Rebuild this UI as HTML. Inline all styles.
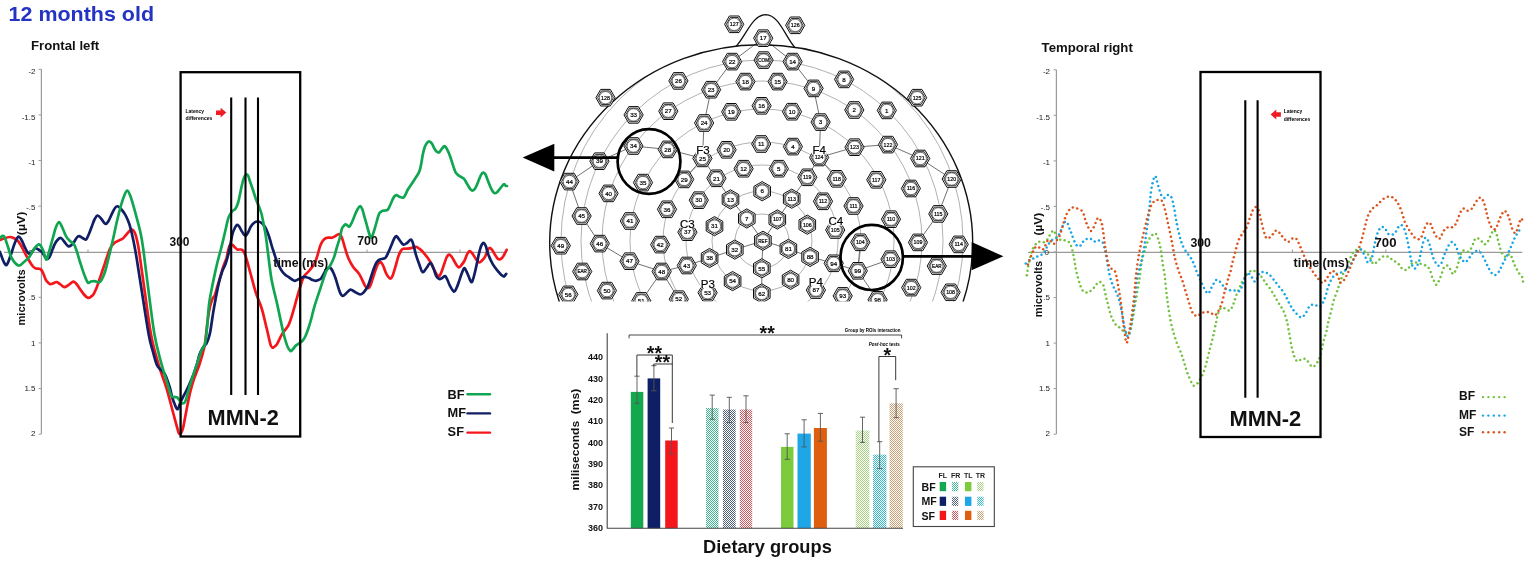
<!DOCTYPE html>
<html lang="en"><head><meta charset="utf-8"><title>12 months old - MMN-2 latency</title>
<style>
html,body{margin:0;padding:0;background:#fff}
body{width:1535px;height:564px;overflow:hidden;font-family:"Liberation Sans",Arial,sans-serif}
svg{display:block;font-family:"Liberation Sans",Arial,sans-serif}
.b{font-weight:bold}
.tk{font-size:8px;fill:#222}
.el{font-size:5.6px;fill:#000;text-anchor:middle;stroke:#000;stroke-width:0.2px}
.big{font-size:11.5px;fill:#000;text-anchor:middle;stroke:#000;stroke-width:0.2px}
</style></head><body>
<svg width="1535" height="564" viewBox="0 0 1535 564">
<defs>
<pattern id="hTeal" width="2" height="2" patternUnits="userSpaceOnUse"><rect width="2" height="2" fill="#fff"/><rect width="1" height="1" fill="#3fb890"/><rect x="1" y="1" width="1" height="1" fill="#3fb890"/></pattern>
<pattern id="hGrey" width="2" height="2" patternUnits="userSpaceOnUse"><rect width="2" height="2" fill="#fff"/><rect width="1" height="1" fill="#4f5f78"/><rect x="1" y="1" width="1" height="1" fill="#4f5f78"/></pattern>
<pattern id="hRed" width="2" height="2" patternUnits="userSpaceOnUse"><rect width="2" height="2" fill="#fff"/><rect width="1" height="1" fill="#d2565c"/><rect x="1" y="1" width="1" height="1" fill="#d2565c"/></pattern>
<pattern id="hLg" width="2" height="2" patternUnits="userSpaceOnUse"><rect width="2" height="2" fill="#fff"/><rect width="1" height="1" fill="#a9d483"/><rect x="1" y="1" width="1" height="1" fill="#a9d483"/></pattern>
<pattern id="hCy" width="2" height="2" patternUnits="userSpaceOnUse"><rect width="2" height="2" fill="#fff"/><rect width="1" height="1" fill="#35bccb"/><rect x="1" y="1" width="1" height="1" fill="#35bccb"/></pattern>
<pattern id="hTan" width="2" height="2" patternUnits="userSpaceOnUse"><rect width="2" height="2" fill="#fff"/><rect width="1" height="1" fill="#c9a074"/><rect x="1" y="1" width="1" height="1" fill="#c9a074"/></pattern>
<clipPath id="headclip"><rect x="500" y="0" width="520" height="301.6"/></clipPath>
<clipPath id="inhead"><ellipse cx="761.2" cy="242.7" rx="211.5" ry="197.9"/></clipPath>
</defs>
<rect width="1535" height="564" fill="#fff"/>
<text x="8.6" y="20.6" class="b" font-size="19.8" fill="#2433c4" textLength="145.4" lengthAdjust="spacingAndGlyphs">12 months old</text>
<g id="left-chart">
<text x="31" y="50.3" class="b" font-size="13.1" fill="#111" textLength="68.2" lengthAdjust="spacingAndGlyphs">Frontal left</text>
<path d="M41.4 69.3V434M4 252.3H507" stroke="#9a9a9a" stroke-width="1.2" fill="none"/>
<path d="M38.6 69.3H41.4" stroke="#9a9a9a" stroke-width="1"/>
<text x="35.5" y="74.3" class="tk" text-anchor="end">-2</text>
<path d="M38.6 114.9H41.4" stroke="#9a9a9a" stroke-width="1"/>
<text x="35.5" y="119.5" class="tk" text-anchor="end">-1.5</text>
<path d="M38.6 160.5H41.4" stroke="#9a9a9a" stroke-width="1"/>
<text x="35.5" y="164.7" class="tk" text-anchor="end">-1</text>
<path d="M38.6 206.1H41.4" stroke="#9a9a9a" stroke-width="1"/>
<text x="35.5" y="209.9" class="tk" text-anchor="end">-.5</text>
<path d="M38.6 251.7H41.4" stroke="#9a9a9a" stroke-width="1"/>
<text x="33" y="255.1" class="tk" text-anchor="end">0</text>
<path d="M38.6 297.3H41.4" stroke="#9a9a9a" stroke-width="1"/>
<text x="35.5" y="300.3" class="tk" text-anchor="end">.5</text>
<path d="M38.6 342.9H41.4" stroke="#9a9a9a" stroke-width="1"/>
<text x="35.5" y="345.5" class="tk" text-anchor="end">1</text>
<path d="M38.6 388.5H41.4" stroke="#9a9a9a" stroke-width="1"/>
<text x="35.5" y="390.7" class="tk" text-anchor="end">1.5</text>
<path d="M38.6 434.1H41.4" stroke="#9a9a9a" stroke-width="1"/>
<text x="35.5" y="435.9" class="tk" text-anchor="end">2</text>
<path d="M88 249.5V252.3" stroke="#9a9a9a" stroke-width="1"/>
<path d="M181 249.5V252.3" stroke="#9a9a9a" stroke-width="1"/>
<path d="M274 249.5V252.3" stroke="#9a9a9a" stroke-width="1"/>
<path d="M367 249.5V252.3" stroke="#9a9a9a" stroke-width="1"/>
<path d="M460 249.5V252.3" stroke="#9a9a9a" stroke-width="1"/>
<text transform="translate(25.3,325.6) rotate(-90)" class="b" font-size="11.3" fill="#111" textLength="56.4" lengthAdjust="spacingAndGlyphs" xml:space="preserve">microvolts</text>
<text transform="translate(25.3,235.2) rotate(-90)" class="b" font-size="11.8" fill="#111" textLength="23.6" lengthAdjust="spacingAndGlyphs" xml:space="preserve">(µV)</text>
<path d="M0 240C0.7 239.8 2.3 239 3.9 238.5C5.5 238 8.2 237.1 9.8 237C11.4 236.9 12.2 237.4 13.5 238C14.8 238.6 16.4 239.2 17.6 240.5C18.9 241.8 19.9 243.6 21 245.5C22.1 247.4 23 249.6 24.4 252.2C25.8 254.8 27.9 258.6 29.3 261C30.7 263.4 31.9 265.2 33 266.5C34.1 267.8 35.1 268.1 36.1 268.5C37.1 268.9 38.2 268.6 39 268.8C39.8 269 40.2 268.6 41 269.5C41.8 270.4 42.7 272.2 43.5 274C44.3 275.8 45.1 278.5 45.9 280C46.7 281.5 47.7 282.3 48.5 283C49.3 283.7 49.9 284.2 50.7 284.2C51.5 284.2 52.5 283.6 53.5 283.2C54.5 282.8 55.4 281.8 56.6 282C57.8 282.2 59.2 283.6 60.5 284.5C61.8 285.4 63.1 287.1 64.4 287.2C65.7 287.3 67 285.9 68.5 285C70 284.1 71.9 281.8 73.2 281.6C74.5 281.4 75.4 282.8 76.5 284C77.6 285.2 78.8 287.2 80 289C81.2 290.8 82.7 293 84 294.5C85.3 296 86.7 297.4 87.8 297.8C88.9 298.2 89.5 297.6 90.5 297C91.5 296.4 92.7 295.4 93.7 293.9C94.7 292.4 95.5 290.4 96.5 288C97.5 285.6 98.3 282.7 99.5 279.3C100.7 275.9 102.2 271.3 103.4 267.8C104.6 264.3 105.5 261.4 106.5 258.5C107.5 255.6 108.4 252.4 109.3 250.2C110.2 248 111 246.8 112 245.5C113 244.2 113.9 243.2 115.1 242.4C116.3 241.6 117.7 241.2 119 240.5C120.3 239.8 121.7 239.4 122.9 238.5C124.1 237.6 125 236.1 126 235C127 233.9 128 232.5 128.8 231.7C129.6 230.9 130.2 230.3 130.8 230C131.5 229.7 132 229.4 132.7 229.8C133.3 230.2 134 231.1 134.7 232.5C135.3 233.9 135.9 235.6 136.6 238.5C137.3 241.4 137.6 241.6 138.9 250C140.2 258.4 142.4 274.8 144.4 289C146.4 303.2 148.8 322.4 151.1 335C153.4 347.6 156 355.5 158.5 364.3C161 373.1 163.9 379.6 166.3 387.7C168.8 395.8 171.4 406.4 173.2 413C175 419.6 176 423.6 177 427C178 430.4 178.3 432.5 179 433.5C179.7 434.5 180.3 433.8 181 433C181.7 432.2 182.2 431.2 182.9 428.7C183.6 426.2 184.2 422.2 185 418C185.8 413.8 186.9 407.8 187.8 403.3C188.7 398.8 189.5 394.9 190.5 391C191.5 387.1 192.2 384.3 193.7 379.9C195.2 375.4 197.7 369.8 199.5 364.3C201.3 358.8 203.3 351.8 204.4 346.7C205.5 341.6 205.5 338.7 206.1 333.9C206.7 329.1 207.3 322.6 208 318C208.7 313.4 209.2 309.8 210 306.6C210.8 303.4 211.7 300.9 212.5 299C213.3 297.1 214.1 297.1 214.9 294.9C215.7 292.7 216.5 289.2 217.5 286C218.5 282.8 219.7 278.7 220.7 275.4C221.7 272.1 222.5 268.9 223.5 266C224.5 263.1 225.8 260.3 226.6 257.8C227.3 255.3 227.5 253 228 251C228.5 249 229 247 229.5 245.9C230 244.8 230.5 244.7 231 244.5C231.5 244.3 231.7 244.4 232.4 244.9C233.1 245.4 234.2 246.8 235 247.5C235.8 248.2 236.5 249.1 237.3 249.4C238.1 249.7 239 249.4 239.8 249.5C240.6 249.6 241.5 249.3 242.2 249.8C242.9 250.3 243.5 251.2 244.2 252.5C244.8 253.8 245.1 254.4 246.1 257.6C247.1 260.8 248.4 265.6 250 271.5C251.6 277.4 254 286.7 255.9 292.9C257.9 299.1 259.9 302.6 261.7 308.5C263.5 314.4 265.1 322 266.6 328C268.1 334 269.6 341.4 270.5 344.6C271.4 347.8 271.5 346.7 272 347.2C272.5 347.7 272.8 347.8 273.4 347.6C273.9 347.4 274.6 346.6 275.3 346C276 345.4 276.2 345.7 277.3 343.7C278.4 341.7 280.4 336.8 282.2 333.9C284 331 286.6 328.4 288 326.1C289.4 323.8 289.7 322.3 290.5 320C291.3 317.7 291.7 316.6 292.9 312.4C294.1 308.2 296.2 300.4 297.8 294.9C299.4 289.4 301.4 282.7 302.7 279.3C304 275.9 304.5 275.8 305.5 274.5C306.5 273.2 307 273.3 308.5 271.5C310 269.7 313 266.1 314.4 263.7C315.8 261.3 316 260 317 257C318 254 319.2 248.7 320.2 245.9C321.2 243.2 322 241.8 323 240.5C324 239.2 325.1 238.5 326.1 238C327.1 237.5 328 237.7 329 237.6C330 237.5 330.9 238 332 237.7C333.1 237.4 334.4 236.6 335.5 236C336.6 235.4 337.9 234.2 338.8 234.1C339.7 234 340.2 234.5 340.8 235.5C341.4 236.5 342 237.9 342.7 240C343.4 242.1 344 244.9 345 248C346 251.1 347.1 255.3 348.5 258.5C349.9 261.7 351.6 264.7 353.4 267.3C355.2 269.9 357.4 271 359.3 274.1C361.2 277.2 363.8 283.6 365.1 285.9C366.4 288.2 366.4 287.5 367 287.8C367.6 288.1 368.3 288.4 369 287.8C369.7 287.2 370.4 285.6 371 284C371.6 282.4 372.1 280.3 372.9 278C373.6 275.7 374.7 272.3 375.5 270C376.3 267.7 377.1 265.6 377.8 264.4C378.5 263.2 378.9 262.9 379.5 262.6C380.1 262.3 380.5 261.8 381.1 262.4C381.7 263 382.6 264.4 383.3 266C384.1 267.6 384.8 270.4 385.6 272.2C386.4 273.9 387.2 275.4 388 276.5C388.8 277.6 389.8 278.7 390.5 278.6C391.2 278.5 391.9 277.4 392.5 276C393.1 274.6 393.4 273.4 394.4 270.2C395.4 267 397.3 259.7 398.3 256.6C399.3 253.5 399.7 252.8 400.5 251.5C401.3 250.2 401.6 249.3 403.2 248.8C404.8 248.3 408.4 248.7 410 248.4C411.6 248.2 412 247.6 413 247.3C414 247 414.9 246.6 415.9 246.8C416.9 247 417.9 247.7 419 248.5C420.1 249.3 420.9 249.7 422.7 251.7C424.4 253.7 427.4 257.1 429.5 260.5C431.6 263.9 434.1 269.7 435.4 272.2C436.7 274.7 436.9 274.9 437.5 275.5C438.1 276.1 438.6 276.7 439.3 276.1C440 275.5 440.7 273.9 441.5 272C442.3 270.1 443.3 266.8 444.1 264.4C444.9 262 445.7 259.1 446.5 257.5C447.3 255.9 448.2 254.8 449 254.6C449.8 254.4 450.7 255.5 451.5 256.5C452.3 257.5 453.1 259.1 453.9 260.5C454.7 261.9 455.7 263.9 456.5 265C457.3 266.1 458 267.3 458.8 267.3C459.6 267.3 460.5 266.1 461.5 265C462.5 263.9 463.7 262.2 464.6 260.5C465.5 258.8 466.2 256.1 467 254.5C467.8 252.9 468.7 251.3 469.5 251.1C470.3 250.8 471.2 252.1 472 253C472.8 253.9 473.6 255.4 474.4 256.6C475.2 257.9 476.2 259.5 477 260.5C477.8 261.5 478.5 262.4 479.3 262.4C480.1 262.4 481 261.5 482 260.5C483 259.5 484.2 258.3 485.1 256.6C486 254.9 486.7 252 487.5 250.5C488.3 249 489.2 247.8 490 247.8C490.8 247.8 491.7 249.4 492.5 250.5C493.3 251.6 494.1 253.3 494.9 254.6C495.7 255.9 496.7 257.7 497.5 258.5C498.3 259.3 499.1 259.6 499.8 259.5C500.6 259.4 501.4 258.6 502 258C502.6 257.4 503.1 256.6 503.7 255.6C504.3 254.6 505 253 505.5 252C506 251 506.4 250.2 506.6 249.8" fill="none" stroke="#f5161b" stroke-width="2.7" stroke-linejoin="round" stroke-linecap="round"/>
<path d="M0 252C0.5 253.3 2.1 258 2.9 260C3.7 262 4.3 263.2 5 264C5.7 264.8 6.1 265.6 6.8 264.9C7.5 264.2 8.2 262.1 9 260C9.8 257.9 10.7 255.1 11.7 252.2C12.7 249.3 13.9 245.1 15 242.5C16.1 239.9 17.4 237 18.5 236.6C19.6 236.2 20.5 238.4 21.5 240C22.5 241.6 23.5 244.4 24.4 246.3C25.3 248.2 26.2 250.2 27 251.5C27.8 252.8 28.5 253.7 29.3 253.8C30.1 253.9 31 252.9 32 252C33 251.1 34 248.7 35.1 248.3C36.2 247.9 37.4 248.8 38.5 249.5C39.6 250.2 40.9 251 42 252.2C43.1 253.4 44 255.4 45 256.5C46 257.6 47 259.1 47.8 259C48.6 258.9 49.2 257.6 50 256C50.8 254.4 51.7 251.4 52.5 249.5C53.3 247.6 53.8 246 54.6 244.4C55.4 242.8 56.5 241.1 57.5 240C58.5 238.9 59.7 237.7 60.9 238C62.1 238.3 63.3 240.6 64.5 242C65.7 243.4 67.1 245.8 68.3 246.3C69.5 246.8 70.5 245.7 71.5 245C72.5 244.3 73.3 243.2 74.1 242C74.9 240.8 75.7 239 76.5 238C77.3 237 78 236.2 79 236.2C80 236.2 81.3 237.4 82.5 238C83.7 238.6 84.9 240 85.9 239.5C86.9 239 87.5 237.1 88.5 235C89.5 232.9 90.7 229.4 91.7 226.8C92.7 224.2 93.5 221.4 94.5 219.5C95.5 217.6 96.4 215.6 97.6 215.5C98.8 215.4 100.2 217.6 101.5 219C102.8 220.4 104.2 223.6 105.4 223.9C106.6 224.2 107.4 222.8 108.5 221C109.6 219.2 111.1 215.4 112.2 213.2C113.3 211 114.1 209.2 115 208C115.9 206.8 116.7 206.1 117.7 206.3C118.7 206.5 119.8 207.7 121 209C122.2 210.3 123.7 212.2 124.9 214.1C126.1 216 127 218.1 128 220.5C129 222.9 129.8 225.4 130.7 228.8C131.6 232.2 132.5 236.1 133.5 241C134.5 245.9 135.3 249.9 136.6 258C137.9 266.1 139.5 276.5 141.5 289.3C143.5 302.1 146.9 324.6 148.8 335C150.7 345.4 151.7 347.1 153 352C154.3 356.9 155.5 361.6 156.6 364.3C157.7 367.1 158.5 367.4 159.5 368.5C160.5 369.6 161.5 370.1 162.4 371.1C163.3 372.1 164.2 373 165 374.5C165.8 376 166.5 377.6 167.3 379.9C168.1 382.1 169.2 385.1 170 388C170.8 390.9 171.4 394.6 172.2 397.4C173 400.2 174.2 403.1 175 405C175.8 406.9 176.5 408.7 177.1 409.1C177.7 409.5 178.2 408.5 178.7 407.5C179.2 406.5 179.3 405.1 180 403.3C180.7 401.6 182 398.9 183 397C184 395.1 184.8 393.8 185.9 391.6C187 389.4 188.2 386.9 189.5 384C190.8 381.1 192.4 377.3 193.7 374C194.9 370.7 196 367.2 197 364C198 360.8 198.5 357.2 199.5 354.5C200.5 351.8 201.9 349.3 203 347.5C204.1 345.7 205.5 345.1 206.3 343.8C207.1 342.5 207.3 341.8 208 339.8C208.7 337.8 209.4 336.2 210.2 332C211 327.8 212 320.1 212.9 314.4C213.8 308.7 214.8 303.2 215.8 298C216.8 292.8 217.8 287.5 218.8 283.2C219.8 278.9 220.9 275.2 222 272C223.1 268.8 224.5 266.8 225.6 263.7C226.7 260.6 227.7 257 228.5 253.7C229.3 250.4 229.8 247.3 230.5 244C231.2 240.7 231.7 236.8 232.4 234.1C233.1 231.4 234 229.6 234.8 228C235.6 226.4 236.6 225.1 237.3 224.8C238 224.6 238.5 225.6 239.2 226.5C239.8 227.4 240.5 228.9 241.2 230.2C241.9 231.4 242.8 233.1 243.5 234C244.2 234.9 244.9 235.9 245.7 235.7C246.4 235.4 247.1 234.1 248 232.5C248.9 230.9 249.9 228 251 226.3C252.1 224.6 253.4 223.3 254.5 222.5C255.6 221.7 256.6 221.4 257.8 221.5C259 221.6 260.4 222.2 261.5 223C262.6 223.8 263.7 225 264.6 226.3C265.5 227.6 266.2 229.1 267 231C267.8 232.9 268.8 235.7 269.5 238C270.2 240.3 270.9 242.8 271.5 245C272.1 247.2 272.6 248.5 273.4 251C274.2 253.5 275.4 257.3 276.3 259.8C277.2 262.3 278 264.1 279 266C280 267.9 281.1 270 282.2 271.5C283.3 273 284.4 274 285.5 275C286.6 276 287.9 276.6 289 277.3C290.1 278.1 291 278.9 292 279.5C293 280.1 293.7 280.9 294.9 280.8C296.1 280.7 297.5 279.6 299 279C300.5 278.4 302.4 277.2 303.7 276.9C304.9 276.6 305.5 277.1 306.5 277.3C307.5 277.5 308.5 277.9 309.5 278.3C310.5 278.8 311.5 279.6 312.5 280C313.5 280.4 314.4 280.8 315.4 280.8C316.4 280.8 317.5 280.4 318.5 280C319.5 279.6 320.3 279.4 321.2 278.3C322.1 277.2 323.2 275 324 273.5C324.8 272 325.4 270.4 326.1 269.5C326.9 268.6 327.7 268 328.5 267.8C329.3 267.6 330.2 267.6 331 268.5C331.8 269.4 332.7 271.2 333.5 273C334.3 274.8 334.8 276.1 335.9 279.3C336.9 282.5 338.7 289.2 339.8 292C340.9 294.8 341.6 295.7 342.7 295.9C343.8 296.1 345.2 294.1 346.5 293C347.8 291.9 349.1 289.8 350.5 289.6C351.9 289.4 353.4 291.2 355 292C356.6 292.8 358.7 294.5 360.2 294.5C361.7 294.5 362.7 293.4 364 292C365.3 290.6 366.8 288.4 368 285.9C369.2 283.4 370 279.9 371 277C372 274.1 373 270.7 373.9 268.3C374.8 265.9 375.5 264 376.5 262.5C377.5 261 378.8 260.1 379.8 259.5C380.8 258.9 381.7 259.1 382.7 258.8C383.7 258.5 384.6 258.7 385.6 257.6C386.6 256.5 387.5 254.1 388.5 252C389.5 249.9 390.6 247.1 391.5 244.9C392.4 242.7 393.2 240.5 394 239C394.8 237.5 395.4 235.9 396.3 236.1C397.2 236.3 398.4 238.6 399.5 240C400.6 241.4 401.9 244 403.2 244.5C404.4 245 405.7 243.8 407 243C408.3 242.2 409.9 239.3 411 239.6C412.1 239.9 412.7 242.5 413.5 245C414.3 247.5 414.9 251.3 415.9 254.6C416.9 257.9 418.4 262.1 419.5 265C420.6 267.9 421.5 271.7 422.7 272.2C423.9 272.7 425.2 269.6 426.5 268C427.8 266.4 429.3 262.7 430.5 262.8C431.7 262.9 432.5 266.3 433.5 268.5C434.5 270.7 435.3 274.4 436.3 276.1C437.3 277.9 438.3 278.7 439.3 279C440.3 279.3 441.2 278.5 442.2 278C443.2 277.5 444.2 275.8 445.1 276.1C446 276.4 446.7 278.4 447.5 280C448.3 281.6 448.9 283.9 450 285.9C451.1 287.8 452.8 291.3 453.9 291.7C455 292.1 455.7 289.6 456.5 288C457.3 286.4 458 284.3 458.8 282C459.6 279.7 460.6 276.3 461.5 274C462.4 271.7 463.4 268.7 464.2 268.3C465 267.9 465.8 270.2 466.5 271.5C467.2 272.8 467.9 274.6 468.5 276.1C469.1 277.6 469.7 279.5 470.3 280.5C470.9 281.5 471.4 282.8 472 282C472.6 281.2 473.3 278.6 474 276C474.7 273.4 475.6 269.6 476.3 266.3C477 263.1 477.7 259.4 478.3 256.5C478.9 253.6 479.6 250.8 480.2 248.8C480.8 246.8 481.4 245.3 482 244.3C482.6 243.3 483.1 242.5 483.8 242.9C484.5 243.3 485.3 244.7 486 246.5C486.7 248.3 486.9 250.7 488 253.7C489.1 256.7 491.1 261.3 492.9 264.4C494.7 267.5 497.4 270.4 498.8 272.2C500.2 274 500.7 274.3 501.5 275C502.3 275.7 503.1 276.4 503.7 276.5C504.3 276.6 504.6 275.9 505 275.5C505.4 275.1 506 274.1 506.2 273.8" fill="none" stroke="#101e63" stroke-width="2.7" stroke-linejoin="round" stroke-linecap="round"/>
<path d="M0 238C0.7 237.7 2.6 234.7 3.9 236.2C5.2 237.7 6.7 243.4 8 247C9.3 250.6 9.9 254.9 11.7 258C13.4 261.1 16.4 264.8 18.5 265.5C20.6 266.2 22.2 263.4 24 262C25.8 260.6 27.6 259.2 29.3 257C31 254.8 32.4 251.1 34 249C35.6 246.9 37.5 244.2 39 244.4C40.5 244.6 41.8 247.5 43 250C44.2 252.5 45.2 259.3 46.2 259.6C47.2 259.9 47.9 255.5 49 252C50.1 248.5 51.5 242.7 52.7 238.5C53.9 234.3 54.9 229.8 56 227C57.1 224.2 58 221.8 59.1 222C60.2 222.2 61.3 225.6 62.5 228C63.7 230.4 65 234.4 66.3 236.6C67.5 238.8 68.7 239.7 70 241C71.3 242.3 72.9 242.6 74.1 244.4C75.3 246.2 76 249.1 77 252C78 254.9 78.8 258.3 80 262C81.2 265.7 82.7 270.6 84 274C85.3 277.4 86.6 281.2 87.8 282.5C89 283.8 89.9 281.7 91 281.5C92.1 281.3 93.2 281.1 94.6 281.2C96 281.3 98.2 282.8 99.5 282.3C100.8 281.8 101.5 280 102.5 278C103.5 276 104.3 274.2 105.4 270.5C106.5 266.8 107.7 261.3 109 256C110.3 250.7 111.9 244.3 113.2 238.5C114.5 232.7 115.7 226.5 117 221C118.3 215.5 119.8 209.7 121 205.4C122.2 201.1 123.5 197.4 124.5 195C125.5 192.6 126.3 190.7 127.2 190.7C128.1 190.7 129.1 192.9 130 195C130.9 197.1 131.6 199.7 132.7 203.4C133.8 207.1 135.2 212.1 136.5 217C137.8 221.9 139.3 227.2 140.5 232.7C141.7 238.2 142.1 240.6 143.4 250C144.7 259.4 146.5 275 148.3 289C150.1 303 152.4 322.1 154.4 334C156.4 345.9 158.5 352.8 160.5 360.4C162.5 368 164.5 374 166.3 379.9C168.1 385.8 169.8 392.6 171.2 395.5C172.6 398.4 173.5 396.7 174.5 397C175.5 397.3 176.2 396.7 177.1 397.4C178 398.1 179.2 400 180 401C180.8 402 181.2 403.1 182 403.3C182.8 403.5 184.1 403.5 184.9 402.3C185.7 401.1 186.2 398.8 187 396C187.8 393.2 188.4 390.3 189.8 385.7C191.2 381.1 193.7 374 195.6 368.2C197.5 362.4 199.9 354.7 201.5 350.6C203.1 346.5 204.2 347.5 205.1 343.7C206 339.9 206.3 334.5 207 328C207.7 321.5 208.2 310.9 209 304.6C209.8 298.3 210.5 295.2 211.5 290C212.5 284.8 213.9 278.1 214.9 273.4C215.9 268.7 216.5 265.9 217.5 262C218.5 258.1 219.8 253.3 220.7 250C221.6 246.7 221.9 245.3 222.7 242C223.5 238.7 224.5 234.1 225.5 230C226.5 225.9 227.4 220.7 228.5 217.6C229.6 214.5 230.8 213 232 211.5C233.2 210 234.4 210.2 235.4 208.8C236.4 207.4 237.2 205.6 238 203C238.8 200.4 239.5 196.4 240.2 193.2C240.9 190 241.5 186.6 242.2 184C242.8 181.4 243.5 179.1 244.1 177.6C244.7 176.1 245.2 175.5 245.7 175C246.2 174.5 246.6 174.3 247.1 174.6C247.6 174.8 248 175.3 248.5 176.5C249 177.7 249.2 179.2 250 181.5C250.8 183.8 252 187.1 253 190C254 192.9 254.8 195.9 255.9 199C257 202.1 258.8 206.1 259.8 208.8C260.8 211.5 261.2 212.4 261.8 215C262.4 217.6 263 220.9 263.7 224.4C264.4 227.9 265.1 231.7 265.8 236C266.5 240.3 266.7 242.8 267.6 250C268.6 257.2 269.9 270.2 271.5 279.3C273.1 288.4 275.4 295.8 277.3 304.6C279.2 313.4 281.6 325.2 283.2 332C284.8 338.8 285.9 342.4 287.1 345.6C288.3 348.8 289.6 350.5 290.6 351.1C291.6 351.7 292.1 349.9 293 349C293.9 348.1 294.8 346.6 295.9 345.6C297 344.6 298.4 343.8 299.5 343C300.6 342.2 301.7 341.9 302.7 340.7C303.7 339.5 304.5 338.1 305.5 336C306.5 333.9 307.5 331 308.5 328C309.5 325 310.5 321.6 311.5 318C312.5 314.4 312.9 311.4 314.4 306.6C315.8 301.8 318.2 294.9 320.2 289C322.1 283.1 324.5 275.3 326.1 271.5C327.7 267.7 328.7 268.3 330 266C331.3 263.7 332.7 260.8 333.9 257.6C335.1 254.4 336 250.3 337 247C338 243.7 339 240.9 339.8 238C340.6 235.1 341.1 231.3 341.7 229.3C342.3 227.3 343 226.8 343.7 226C344.4 225.2 345 224.5 345.6 224.4C346.2 224.3 346.9 225.1 347.5 225.5C348.1 225.9 348.7 227.3 349.5 226.6C350.3 225.8 351.5 223.2 352.5 221C353.5 218.8 354.5 215.8 355.4 213.7C356.3 211.6 357.2 209.8 358 208.5C358.8 207.2 359.5 205.9 360.2 206C360.9 206.1 361.5 207.4 362.2 209C362.9 210.6 363.4 213.1 364.1 215.6C364.8 218.1 365.7 221.1 366.5 224C367.3 226.9 368.2 230.7 369 233C369.8 235.3 370.3 237.8 371 238C371.7 238.2 372.4 235.7 373 234C373.6 232.3 373.9 231.2 374.9 228C375.9 224.8 377.8 217.2 378.8 214.5C379.8 211.8 380.2 212.6 380.8 212C381.4 211.4 382 210.9 382.7 210.7C383.4 210.4 384.2 210.7 385 210.5C385.8 210.3 386.8 210.6 387.6 209.8C388.4 209 389.2 207.1 390 205.5C390.8 203.9 391.7 201.5 392.4 200C393.1 198.5 393.6 197.3 394.3 196.5C395 195.7 395.4 195 396.3 195.1C397.2 195.2 398.4 196.4 399.5 196.8C400.6 197.2 402.2 198.1 403.2 197.7C404.2 197.3 404.7 195.9 405.5 194.5C406.3 193.1 406.6 191.6 408 189.3C409.4 187 412.1 183.3 413.9 180.5C415.7 177.7 417.6 175.1 418.8 172.7C420 170.3 420.2 168.9 420.8 166C421.4 163.1 422.1 158.2 422.7 155.1C423.3 152 424 149.4 424.6 147.5C425.2 145.6 426 144.3 426.6 143.4C427.2 142.5 427.5 142.1 428 141.8C428.5 141.5 429 141.4 429.5 141.5C430 141.6 430.5 142 431 142.5C431.5 143 431.8 143.4 432.4 144.4C432.9 145.4 433.6 147.4 434.3 148.5C435 149.6 435.7 150.6 436.3 151.2C436.9 151.8 437.3 152.1 437.8 152.3C438.3 152.5 438.7 152.8 439.3 152.2C439.9 151.6 440.9 150 441.7 149C442.5 148 443.5 146.6 444.1 146.3C444.8 146 445.1 146.5 445.6 147C446.1 147.5 446.5 148.2 447.1 149.3C447.7 150.4 448.4 151.9 449 153.5C449.6 155.1 450 156.1 451 159C452 161.9 453.9 168.2 454.9 170.7C455.9 173.2 456.1 173 456.8 173.8C457.5 174.6 457.7 174.8 458.8 175.6C459.9 176.4 462.5 177.4 463.7 178.5C464.9 179.6 465.2 180.7 466 182C466.8 183.3 467.8 185.1 468.5 186.3C469.2 187.5 469.9 188.6 470.5 189.3C471.1 190 471.8 190.6 472.4 190.6C473 190.6 473.6 190.2 474.3 189.5C475 188.8 475.3 188.5 476.3 186.3C477.3 184.2 479.2 178.7 480.2 176.6C481.1 174.5 481.4 174.2 482 173.5C482.6 172.8 483.2 172.5 483.8 172.7C484.4 172.9 484.9 173.5 485.5 174.5C486.1 175.5 486.2 176.2 487.1 178.5C488 180.8 490 186.1 491 188.3C492 190.5 492.4 190.9 493 191.7C493.6 192.5 494.3 193.1 494.9 193.2C495.5 193.3 496.1 193 496.8 192.5C497.5 192 497.7 191.5 498.8 190.2C499.9 188.8 502.6 185.1 503.7 184.4C504.8 183.7 505.1 185.5 505.6 185.8C506.2 186.1 506.8 186 507 186" fill="none" stroke="#10a651" stroke-width="2.7" stroke-linejoin="round" stroke-linecap="round"/>
<rect x="180.6" y="72.2" width="119.6" height="364.3" fill="none" stroke="#000" stroke-width="2.3"/>
<path d="M231.2 97.6V395M245.5 97.6V395M258 97.6V395" stroke="#000" stroke-width="2.1" fill="none"/>
<text x="207.6" y="425.2" class="b" font-size="21.2" fill="#111" textLength="71.2" lengthAdjust="spacingAndGlyphs">MMN-2</text>
<text x="169.5" y="246" class="b" font-size="12" fill="#111" textLength="20" lengthAdjust="spacingAndGlyphs">300</text>
<text x="357.2" y="245.4" class="b" font-size="12" fill="#111" textLength="20.7" lengthAdjust="spacingAndGlyphs">700</text>
<text x="273.3" y="267.4" class="b" font-size="12.3" fill="#111" textLength="54.8" lengthAdjust="spacingAndGlyphs">time (ms)</text>
<text x="185.5" y="112.9" class="b" font-size="5.4" fill="#000" textLength="18.6" lengthAdjust="spacingAndGlyphs">Latency</text>
<text x="185.5" y="119.8" class="b" font-size="5.4" fill="#000" textLength="26.8" lengthAdjust="spacingAndGlyphs">differences</text>
<path d="M216 110.4H220.6V107.8L226.3 112.6L220.6 117.6V114.9H216Z" fill="#ee1c25"/>
<text x="447.6" y="398.7" class="b" font-size="12.8" fill="#111">BF</text>
<path d="M467.5 394.2H490" stroke="#10a651" stroke-width="2.4" stroke-linecap="round"/>
<text x="447.6" y="416.9" class="b" font-size="12.8" fill="#111">MF</text>
<path d="M467.5 413.4H490" stroke="#101e63" stroke-width="2.4" stroke-linecap="round"/>
<text x="447.6" y="436.3" class="b" font-size="12.8" fill="#111">SF</text>
<path d="M467.5 432.6H490" stroke="#f5161b" stroke-width="2.4" stroke-linecap="round"/>
</g>
<g id="head" clip-path="url(#headclip)">
<g clip-path="url(#inhead)" fill="none" stroke="#707070" stroke-width="0.55">
<circle cx="762" cy="241" r="27"/>
<circle cx="762" cy="241" r="50"/>
<circle cx="762" cy="241" r="76"/>
<circle cx="762" cy="241" r="99"/>
<circle cx="762" cy="241" r="132"/>
<circle cx="762" cy="241" r="160"/>
<circle cx="762" cy="241" r="181"/>
<circle cx="762" cy="241" r="201"/>
</g>
<path d="M763.2 38.2L732.1 61.6L711.1 89.7L704.1 123L702.4 158.4M763.2 38.2L792.6 61.6L813.6 88.4L820.6 122.1L819.1 157.5M702.4 158.4L716.4 178.3L730.5 199.4L746.8 218.5L762.9 240.8M819.1 157.5L807.3 177.3L791.7 198.7L777.3 219.5L762.9 240.8M762.9 240.8L761.8 268.3L761.8 293.4M762.9 240.8L734.8 249.6L709.6 258L686.8 265.5L661.7 271.5M762.9 240.8L788.4 248.9L810.1 256.9L833.7 263.3L857.8 270.8M702.4 158.4L667.7 149.4L633.4 146L599.4 161.2L569.4 181.6L581.6 216L599.8 243.6L629.5 261.2L661.7 271.5M819.1 157.5L854.5 147.2L888 144.6L920.2 158.5L951.7 179L938.3 213.9L918 242.4M661.7 271.5L678.8 299.2M661.7 271.5L641.3 300.9M857.8 270.8L877.6 299.8M857.8 270.8L890.5 259.2M857.8 270.8L860.3 242.3M702.4 158.4L684.2 179.4M819.1 157.5L836.7 178.8" fill="none" stroke="#333" stroke-width="0.7"/>
<ellipse cx="761.2" cy="242.7" rx="211.5" ry="197.9" fill="none" stroke="#111" stroke-width="1.4"/>
<path d="M736 46.5C746 36 752 15 765.8 14.6C779 15 785 36 794.7 47.2" fill="none" stroke="#111" stroke-width="1.3"/>
<g><polygon points="743.8,24.3 739,32.6 729.4,32.6 724.6,24.3 729.4,16 739,16" fill="#fff" stroke="#0c0c0c" stroke-width="1" stroke-linejoin="round"/><polygon points="742.1,24.3 738.2,31.1 730.2,31.1 726.3,24.3 730.2,17.5 738.2,17.5" fill="#d8d8d8" stroke="#161616" stroke-width="0.85" stroke-linejoin="round"/><circle cx="734.2" cy="24.3" r="6.2" fill="#fff" stroke="#222" stroke-width="0.6"/>
<text x="734.2" y="26.2" class="el" style="font-size:5.3px">127</text></g>
<g><polygon points="804.8,25.3 800,33.6 790.4,33.6 785.6,25.3 790.4,17 800,17" fill="#fff" stroke="#0c0c0c" stroke-width="1" stroke-linejoin="round"/><polygon points="803.1,25.3 799.2,32.1 791.2,32.1 787.3,25.3 791.2,18.5 799.2,18.5" fill="#d8d8d8" stroke="#161616" stroke-width="0.85" stroke-linejoin="round"/><circle cx="795.2" cy="25.3" r="6.2" fill="#fff" stroke="#222" stroke-width="0.6"/>
<text x="795.2" y="27.2" class="el" style="font-size:5.3px">126</text></g>
<g><polygon points="772.8,38.2 768,46.5 758.4,46.5 753.6,38.2 758.4,29.9 768,29.9" fill="#fff" stroke="#0c0c0c" stroke-width="1" stroke-linejoin="round"/><polygon points="771.1,38.2 767.2,45 759.2,45 755.3,38.2 759.2,31.4 767.2,31.4" fill="#d8d8d8" stroke="#161616" stroke-width="0.85" stroke-linejoin="round"/><circle cx="763.2" cy="38.2" r="6.2" fill="#fff" stroke="#222" stroke-width="0.6"/>
<text x="763.2" y="40.4" class="el" style="font-size:6.2px">17</text></g>
<g><polygon points="741.7,61.6 736.9,69.9 727.3,69.9 722.5,61.6 727.3,53.3 736.9,53.3" fill="#fff" stroke="#0c0c0c" stroke-width="1" stroke-linejoin="round"/><polygon points="740,61.6 736.1,68.4 728.1,68.4 724.2,61.6 728.1,54.8 736.1,54.8" fill="#d8d8d8" stroke="#161616" stroke-width="0.85" stroke-linejoin="round"/><circle cx="732.1" cy="61.6" r="6.2" fill="#fff" stroke="#222" stroke-width="0.6"/>
<text x="732.1" y="63.8" class="el" style="font-size:6.2px">22</text></g>
<g><polygon points="773.2,60.1 768.4,68.4 758.8,68.4 754,60.1 758.8,51.8 768.4,51.8" fill="#fff" stroke="#0c0c0c" stroke-width="1" stroke-linejoin="round"/><polygon points="771.5,60.1 767.6,66.9 759.6,66.9 755.7,60.1 759.6,53.3 767.6,53.3" fill="#d8d8d8" stroke="#161616" stroke-width="0.85" stroke-linejoin="round"/><circle cx="763.6" cy="60.1" r="6.2" fill="#fff" stroke="#222" stroke-width="0.6"/>
<text x="763.6" y="61.8" class="el" style="font-size:4.6px">COM</text></g>
<g><polygon points="802.2,61.6 797.4,69.9 787.8,69.9 783,61.6 787.8,53.3 797.4,53.3" fill="#fff" stroke="#0c0c0c" stroke-width="1" stroke-linejoin="round"/><polygon points="800.5,61.6 796.6,68.4 788.6,68.4 784.7,61.6 788.6,54.8 796.6,54.8" fill="#d8d8d8" stroke="#161616" stroke-width="0.85" stroke-linejoin="round"/><circle cx="792.6" cy="61.6" r="6.2" fill="#fff" stroke="#222" stroke-width="0.6"/>
<text x="792.6" y="63.8" class="el" style="font-size:6.2px">14</text></g>
<g><polygon points="688,80.9 683.2,89.2 673.6,89.2 668.8,80.9 673.6,72.6 683.2,72.6" fill="#fff" stroke="#0c0c0c" stroke-width="1" stroke-linejoin="round"/><polygon points="686.3,80.9 682.4,87.7 674.4,87.7 670.5,80.9 674.4,74.1 682.4,74.1" fill="#d8d8d8" stroke="#161616" stroke-width="0.85" stroke-linejoin="round"/><circle cx="678.4" cy="80.9" r="6.2" fill="#fff" stroke="#222" stroke-width="0.6"/>
<text x="678.4" y="83.1" class="el" style="font-size:6.2px">26</text></g>
<g><polygon points="755,81.6 750.2,89.9 740.6,89.9 735.8,81.6 740.6,73.3 750.2,73.3" fill="#fff" stroke="#0c0c0c" stroke-width="1" stroke-linejoin="round"/><polygon points="753.3,81.6 749.4,88.4 741.4,88.4 737.5,81.6 741.4,74.8 749.4,74.8" fill="#d8d8d8" stroke="#161616" stroke-width="0.85" stroke-linejoin="round"/><circle cx="745.4" cy="81.6" r="6.2" fill="#fff" stroke="#222" stroke-width="0.6"/>
<text x="745.4" y="83.8" class="el" style="font-size:6.2px">18</text></g>
<g><polygon points="787.2,81.6 782.4,89.9 772.8,89.9 768,81.6 772.8,73.3 782.4,73.3" fill="#fff" stroke="#0c0c0c" stroke-width="1" stroke-linejoin="round"/><polygon points="785.5,81.6 781.6,88.4 773.6,88.4 769.7,81.6 773.6,74.8 781.6,74.8" fill="#d8d8d8" stroke="#161616" stroke-width="0.85" stroke-linejoin="round"/><circle cx="777.6" cy="81.6" r="6.2" fill="#fff" stroke="#222" stroke-width="0.6"/>
<text x="777.6" y="83.8" class="el" style="font-size:6.2px">15</text></g>
<g><polygon points="853.7,79.4 848.9,87.7 839.3,87.7 834.5,79.4 839.3,71.1 848.9,71.1" fill="#fff" stroke="#0c0c0c" stroke-width="1" stroke-linejoin="round"/><polygon points="852,79.4 848.1,86.2 840.1,86.2 836.2,79.4 840.1,72.6 848.1,72.6" fill="#d8d8d8" stroke="#161616" stroke-width="0.85" stroke-linejoin="round"/><circle cx="844.1" cy="79.4" r="6.2" fill="#fff" stroke="#222" stroke-width="0.6"/>
<text x="844.1" y="81.6" class="el" style="font-size:6.2px">8</text></g>
<g><polygon points="720.7,89.7 715.9,98 706.3,98 701.5,89.7 706.3,81.4 715.9,81.4" fill="#fff" stroke="#0c0c0c" stroke-width="1" stroke-linejoin="round"/><polygon points="719,89.7 715.1,96.5 707.1,96.5 703.2,89.7 707.1,82.9 715.1,82.9" fill="#d8d8d8" stroke="#161616" stroke-width="0.85" stroke-linejoin="round"/><circle cx="711.1" cy="89.7" r="6.2" fill="#fff" stroke="#222" stroke-width="0.6"/>
<text x="711.1" y="91.9" class="el" style="font-size:6.2px">23</text></g>
<g><polygon points="823.2,88.4 818.4,96.7 808.8,96.7 804,88.4 808.8,80.1 818.4,80.1" fill="#fff" stroke="#0c0c0c" stroke-width="1" stroke-linejoin="round"/><polygon points="821.5,88.4 817.6,95.2 809.6,95.2 805.7,88.4 809.6,81.6 817.6,81.6" fill="#d8d8d8" stroke="#161616" stroke-width="0.85" stroke-linejoin="round"/><circle cx="813.6" cy="88.4" r="6.2" fill="#fff" stroke="#222" stroke-width="0.6"/>
<text x="813.6" y="90.6" class="el" style="font-size:6.2px">9</text></g>
<g><polygon points="615.1,97.7 610.3,106 600.7,106 595.9,97.7 600.7,89.4 610.3,89.4" fill="#fff" stroke="#0c0c0c" stroke-width="1" stroke-linejoin="round"/><polygon points="613.4,97.7 609.5,104.5 601.5,104.5 597.6,97.7 601.5,90.9 609.5,90.9" fill="#d8d8d8" stroke="#161616" stroke-width="0.85" stroke-linejoin="round"/><circle cx="605.5" cy="97.7" r="6.2" fill="#fff" stroke="#222" stroke-width="0.6"/>
<text x="605.5" y="99.6" class="el" style="font-size:5.3px">128</text></g>
<g><polygon points="926.7,97.7 921.9,106 912.3,106 907.5,97.7 912.3,89.4 921.9,89.4" fill="#fff" stroke="#0c0c0c" stroke-width="1" stroke-linejoin="round"/><polygon points="925,97.7 921.1,104.5 913.1,104.5 909.2,97.7 913.1,90.9 921.1,90.9" fill="#d8d8d8" stroke="#161616" stroke-width="0.85" stroke-linejoin="round"/><circle cx="917.1" cy="97.7" r="6.2" fill="#fff" stroke="#222" stroke-width="0.6"/>
<text x="917.1" y="99.6" class="el" style="font-size:5.3px">125</text></g>
<g><polygon points="643.2,114.9 638.4,123.2 628.8,123.2 624,114.9 628.8,106.6 638.4,106.6" fill="#fff" stroke="#0c0c0c" stroke-width="1" stroke-linejoin="round"/><polygon points="641.5,114.9 637.6,121.7 629.6,121.7 625.7,114.9 629.6,108.1 637.6,108.1" fill="#d8d8d8" stroke="#161616" stroke-width="0.85" stroke-linejoin="round"/><circle cx="633.6" cy="114.9" r="6.2" fill="#fff" stroke="#222" stroke-width="0.6"/>
<text x="633.6" y="117.1" class="el" style="font-size:6.2px">33</text></g>
<g><polygon points="677.9,111.2 673.1,119.5 663.5,119.5 658.7,111.2 663.5,102.9 673.1,102.9" fill="#fff" stroke="#0c0c0c" stroke-width="1" stroke-linejoin="round"/><polygon points="676.2,111.2 672.2,118 664.3,118 660.4,111.2 664.3,104.4 672.2,104.4" fill="#d8d8d8" stroke="#161616" stroke-width="0.85" stroke-linejoin="round"/><circle cx="668.3" cy="111.2" r="6.2" fill="#fff" stroke="#222" stroke-width="0.6"/>
<text x="668.3" y="113.4" class="el" style="font-size:6.2px">27</text></g>
<g><polygon points="740.8,111.8 736,120.1 726.4,120.1 721.6,111.8 726.4,103.5 736,103.5" fill="#fff" stroke="#0c0c0c" stroke-width="1" stroke-linejoin="round"/><polygon points="739.1,111.8 735.2,118.6 727.2,118.6 723.3,111.8 727.2,105 735.2,105" fill="#d8d8d8" stroke="#161616" stroke-width="0.85" stroke-linejoin="round"/><circle cx="731.2" cy="111.8" r="6.2" fill="#fff" stroke="#222" stroke-width="0.6"/>
<text x="731.2" y="114" class="el" style="font-size:6.2px">19</text></g>
<g><polygon points="771.2,105.8 766.4,114.1 756.8,114.1 752,105.8 756.8,97.5 766.4,97.5" fill="#fff" stroke="#0c0c0c" stroke-width="1" stroke-linejoin="round"/><polygon points="769.5,105.8 765.6,112.6 757.6,112.6 753.7,105.8 757.6,99 765.6,99" fill="#d8d8d8" stroke="#161616" stroke-width="0.85" stroke-linejoin="round"/><circle cx="761.6" cy="105.8" r="6.2" fill="#fff" stroke="#222" stroke-width="0.6"/>
<text x="761.6" y="108" class="el" style="font-size:6.2px">16</text></g>
<g><polygon points="801.6,111.7 796.8,120 787.2,120 782.4,111.7 787.2,103.4 796.8,103.4" fill="#fff" stroke="#0c0c0c" stroke-width="1" stroke-linejoin="round"/><polygon points="799.9,111.7 796,118.5 788,118.5 784.1,111.7 788,104.9 796,104.9" fill="#d8d8d8" stroke="#161616" stroke-width="0.85" stroke-linejoin="round"/><circle cx="792" cy="111.7" r="6.2" fill="#fff" stroke="#222" stroke-width="0.6"/>
<text x="792" y="113.9" class="el" style="font-size:6.2px">10</text></g>
<g><polygon points="863.9,110 859.1,118.3 849.5,118.3 844.7,110 849.5,101.7 859.1,101.7" fill="#fff" stroke="#0c0c0c" stroke-width="1" stroke-linejoin="round"/><polygon points="862.2,110 858.2,116.8 850.3,116.8 846.4,110 850.3,103.2 858.2,103.2" fill="#d8d8d8" stroke="#161616" stroke-width="0.85" stroke-linejoin="round"/><circle cx="854.3" cy="110" r="6.2" fill="#fff" stroke="#222" stroke-width="0.6"/>
<text x="854.3" y="112.2" class="el" style="font-size:6.2px">2</text></g>
<g><polygon points="896.4,110.4 891.6,118.7 882,118.7 877.2,110.4 882,102.1 891.6,102.1" fill="#fff" stroke="#0c0c0c" stroke-width="1" stroke-linejoin="round"/><polygon points="894.7,110.4 890.8,117.2 882.8,117.2 878.9,110.4 882.8,103.6 890.8,103.6" fill="#d8d8d8" stroke="#161616" stroke-width="0.85" stroke-linejoin="round"/><circle cx="886.8" cy="110.4" r="6.2" fill="#fff" stroke="#222" stroke-width="0.6"/>
<text x="886.8" y="112.6" class="el" style="font-size:6.2px">1</text></g>
<g><polygon points="713.7,123 708.9,131.3 699.3,131.3 694.5,123 699.3,114.7 708.9,114.7" fill="#fff" stroke="#0c0c0c" stroke-width="1" stroke-linejoin="round"/><polygon points="712,123 708.1,129.8 700.1,129.8 696.2,123 700.1,116.2 708.1,116.2" fill="#d8d8d8" stroke="#161616" stroke-width="0.85" stroke-linejoin="round"/><circle cx="704.1" cy="123" r="6.2" fill="#fff" stroke="#222" stroke-width="0.6"/>
<text x="704.1" y="125.2" class="el" style="font-size:6.2px">24</text></g>
<g><polygon points="830.2,122.1 825.4,130.4 815.8,130.4 811,122.1 815.8,113.8 825.4,113.8" fill="#fff" stroke="#0c0c0c" stroke-width="1" stroke-linejoin="round"/><polygon points="828.5,122.1 824.6,128.9 816.6,128.9 812.7,122.1 816.6,115.3 824.6,115.3" fill="#d8d8d8" stroke="#161616" stroke-width="0.85" stroke-linejoin="round"/><circle cx="820.6" cy="122.1" r="6.2" fill="#fff" stroke="#222" stroke-width="0.6"/>
<text x="820.6" y="124.3" class="el" style="font-size:6.2px">3</text></g>
<g><polygon points="643,146 638.2,154.3 628.6,154.3 623.8,146 628.6,137.7 638.2,137.7" fill="#fff" stroke="#0c0c0c" stroke-width="1" stroke-linejoin="round"/><polygon points="641.3,146 637.4,152.8 629.4,152.8 625.5,146 629.4,139.2 637.4,139.2" fill="#d8d8d8" stroke="#161616" stroke-width="0.85" stroke-linejoin="round"/><circle cx="633.4" cy="146" r="6.2" fill="#fff" stroke="#222" stroke-width="0.6"/>
<text x="633.4" y="148.2" class="el" style="font-size:6.2px">34</text></g>
<g><polygon points="677.3,149.4 672.5,157.7 662.9,157.7 658.1,149.4 662.9,141.1 672.5,141.1" fill="#fff" stroke="#0c0c0c" stroke-width="1" stroke-linejoin="round"/><polygon points="675.6,149.4 671.7,156.2 663.8,156.2 659.8,149.4 663.8,142.6 671.7,142.6" fill="#d8d8d8" stroke="#161616" stroke-width="0.85" stroke-linejoin="round"/><circle cx="667.7" cy="149.4" r="6.2" fill="#fff" stroke="#222" stroke-width="0.6"/>
<text x="667.7" y="151.6" class="el" style="font-size:6.2px">28</text></g>
<g><polygon points="736.2,149.8 731.4,158.1 721.8,158.1 717,149.8 721.8,141.5 731.4,141.5" fill="#fff" stroke="#0c0c0c" stroke-width="1" stroke-linejoin="round"/><polygon points="734.5,149.8 730.6,156.6 722.6,156.6 718.7,149.8 722.6,143 730.6,143" fill="#d8d8d8" stroke="#161616" stroke-width="0.85" stroke-linejoin="round"/><circle cx="726.6" cy="149.8" r="6.2" fill="#fff" stroke="#222" stroke-width="0.6"/>
<text x="726.6" y="152" class="el" style="font-size:6.2px">20</text></g>
<g><polygon points="770.8,144 766,152.3 756.4,152.3 751.6,144 756.4,135.7 766,135.7" fill="#fff" stroke="#0c0c0c" stroke-width="1" stroke-linejoin="round"/><polygon points="769.1,144 765.2,150.8 757.2,150.8 753.3,144 757.2,137.2 765.2,137.2" fill="#d8d8d8" stroke="#161616" stroke-width="0.85" stroke-linejoin="round"/><circle cx="761.2" cy="144" r="6.2" fill="#fff" stroke="#222" stroke-width="0.6"/>
<text x="761.2" y="146.2" class="el" style="font-size:6.2px">11</text></g>
<g><polygon points="802.5,146.6 797.7,154.9 788.1,154.9 783.3,146.6 788.1,138.3 797.7,138.3" fill="#fff" stroke="#0c0c0c" stroke-width="1" stroke-linejoin="round"/><polygon points="800.8,146.6 796.9,153.4 788.9,153.4 785,146.6 788.9,139.8 796.9,139.8" fill="#d8d8d8" stroke="#161616" stroke-width="0.85" stroke-linejoin="round"/><circle cx="792.9" cy="146.6" r="6.2" fill="#fff" stroke="#222" stroke-width="0.6"/>
<text x="792.9" y="148.8" class="el" style="font-size:6.2px">4</text></g>
<g><polygon points="864.1,147.2 859.3,155.5 849.7,155.5 844.9,147.2 849.7,138.9 859.3,138.9" fill="#fff" stroke="#0c0c0c" stroke-width="1" stroke-linejoin="round"/><polygon points="862.4,147.2 858.5,154 850.5,154 846.6,147.2 850.5,140.4 858.5,140.4" fill="#d8d8d8" stroke="#161616" stroke-width="0.85" stroke-linejoin="round"/><circle cx="854.5" cy="147.2" r="6.2" fill="#fff" stroke="#222" stroke-width="0.6"/>
<text x="854.5" y="149.1" class="el" style="font-size:5.3px">123</text></g>
<g><polygon points="897.6,144.6 892.8,152.9 883.2,152.9 878.4,144.6 883.2,136.3 892.8,136.3" fill="#fff" stroke="#0c0c0c" stroke-width="1" stroke-linejoin="round"/><polygon points="895.9,144.6 892,151.4 884,151.4 880.1,144.6 884,137.8 892,137.8" fill="#d8d8d8" stroke="#161616" stroke-width="0.85" stroke-linejoin="round"/><circle cx="888" cy="144.6" r="6.2" fill="#fff" stroke="#222" stroke-width="0.6"/>
<text x="888" y="146.5" class="el" style="font-size:5.3px">122</text></g>
<g><polygon points="712,158.4 707.2,166.7 697.6,166.7 692.8,158.4 697.6,150.1 707.2,150.1" fill="#fff" stroke="#0c0c0c" stroke-width="1" stroke-linejoin="round"/><polygon points="710.3,158.4 706.4,165.2 698.4,165.2 694.5,158.4 698.4,151.6 706.4,151.6" fill="#d8d8d8" stroke="#161616" stroke-width="0.85" stroke-linejoin="round"/><circle cx="702.4" cy="158.4" r="6.2" fill="#fff" stroke="#222" stroke-width="0.6"/>
<text x="702.4" y="160.6" class="el" style="font-size:6.2px">25</text></g>
<g><polygon points="828.7,157.5 823.9,165.8 814.3,165.8 809.5,157.5 814.3,149.2 823.9,149.2" fill="#fff" stroke="#0c0c0c" stroke-width="1" stroke-linejoin="round"/><polygon points="827,157.5 823.1,164.3 815.1,164.3 811.2,157.5 815.1,150.7 823.1,150.7" fill="#d8d8d8" stroke="#161616" stroke-width="0.85" stroke-linejoin="round"/><circle cx="819.1" cy="157.5" r="6.2" fill="#fff" stroke="#222" stroke-width="0.6"/>
<text x="819.1" y="159.4" class="el" style="font-size:5.3px">124</text></g>
<g><polygon points="609,161.2 604.2,169.5 594.6,169.5 589.8,161.2 594.6,152.9 604.2,152.9" fill="#fff" stroke="#0c0c0c" stroke-width="1" stroke-linejoin="round"/><polygon points="607.3,161.2 603.4,168 595.4,168 591.5,161.2 595.4,154.4 603.4,154.4" fill="#d8d8d8" stroke="#161616" stroke-width="0.85" stroke-linejoin="round"/><circle cx="599.4" cy="161.2" r="6.2" fill="#fff" stroke="#222" stroke-width="0.6"/>
<text x="599.4" y="163.4" class="el" style="font-size:6.2px">39</text></g>
<g><polygon points="929.8,158.5 925,166.8 915.4,166.8 910.6,158.5 915.4,150.2 925,150.2" fill="#fff" stroke="#0c0c0c" stroke-width="1" stroke-linejoin="round"/><polygon points="928.1,158.5 924.2,165.3 916.2,165.3 912.3,158.5 916.2,151.7 924.2,151.7" fill="#d8d8d8" stroke="#161616" stroke-width="0.85" stroke-linejoin="round"/><circle cx="920.2" cy="158.5" r="6.2" fill="#fff" stroke="#222" stroke-width="0.6"/>
<text x="920.2" y="160.4" class="el" style="font-size:5.3px">121</text></g>
<g><polygon points="753.2,168.7 748.4,177 738.8,177 734,168.7 738.8,160.4 748.4,160.4" fill="#fff" stroke="#0c0c0c" stroke-width="1" stroke-linejoin="round"/><polygon points="751.5,168.7 747.6,175.5 739.6,175.5 735.7,168.7 739.6,161.9 747.6,161.9" fill="#d8d8d8" stroke="#161616" stroke-width="0.85" stroke-linejoin="round"/><circle cx="743.6" cy="168.7" r="6.2" fill="#fff" stroke="#222" stroke-width="0.6"/>
<text x="743.6" y="170.9" class="el" style="font-size:6.2px">12</text></g>
<g><polygon points="788.4,168.7 783.6,177 774,177 769.2,168.7 774,160.4 783.6,160.4" fill="#fff" stroke="#0c0c0c" stroke-width="1" stroke-linejoin="round"/><polygon points="786.7,168.7 782.8,175.5 774.8,175.5 770.9,168.7 774.8,161.9 782.8,161.9" fill="#d8d8d8" stroke="#161616" stroke-width="0.85" stroke-linejoin="round"/><circle cx="778.8" cy="168.7" r="6.2" fill="#fff" stroke="#222" stroke-width="0.6"/>
<text x="778.8" y="170.9" class="el" style="font-size:6.2px">5</text></g>
<g><polygon points="693.8,179.4 689,187.7 679.4,187.7 674.6,179.4 679.4,171.1 689,171.1" fill="#fff" stroke="#0c0c0c" stroke-width="1" stroke-linejoin="round"/><polygon points="692.1,179.4 688.2,186.2 680.2,186.2 676.3,179.4 680.2,172.6 688.2,172.6" fill="#d8d8d8" stroke="#161616" stroke-width="0.85" stroke-linejoin="round"/><circle cx="684.2" cy="179.4" r="6.2" fill="#fff" stroke="#222" stroke-width="0.6"/>
<text x="684.2" y="181.6" class="el" style="font-size:6.2px">29</text></g>
<g><polygon points="726,178.3 721.2,186.6 711.6,186.6 706.8,178.3 711.6,170 721.2,170" fill="#fff" stroke="#0c0c0c" stroke-width="1" stroke-linejoin="round"/><polygon points="724.3,178.3 720.4,185.1 712.4,185.1 708.5,178.3 712.4,171.5 720.4,171.5" fill="#d8d8d8" stroke="#161616" stroke-width="0.85" stroke-linejoin="round"/><circle cx="716.4" cy="178.3" r="6.2" fill="#fff" stroke="#222" stroke-width="0.6"/>
<text x="716.4" y="180.5" class="el" style="font-size:6.2px">21</text></g>
<g><polygon points="816.9,177.3 812.1,185.6 802.5,185.6 797.7,177.3 802.5,169 812.1,169" fill="#fff" stroke="#0c0c0c" stroke-width="1" stroke-linejoin="round"/><polygon points="815.2,177.3 811.2,184.1 803.3,184.1 799.4,177.3 803.3,170.5 811.2,170.5" fill="#d8d8d8" stroke="#161616" stroke-width="0.85" stroke-linejoin="round"/><circle cx="807.3" cy="177.3" r="6.2" fill="#fff" stroke="#222" stroke-width="0.6"/>
<text x="807.3" y="179.2" class="el" style="font-size:5.3px">119</text></g>
<g><polygon points="846.3,178.8 841.5,187.1 831.9,187.1 827.1,178.8 831.9,170.5 841.5,170.5" fill="#fff" stroke="#0c0c0c" stroke-width="1" stroke-linejoin="round"/><polygon points="844.6,178.8 840.7,185.6 832.8,185.6 828.8,178.8 832.8,172 840.7,172" fill="#d8d8d8" stroke="#161616" stroke-width="0.85" stroke-linejoin="round"/><circle cx="836.7" cy="178.8" r="6.2" fill="#fff" stroke="#222" stroke-width="0.6"/>
<text x="836.7" y="180.7" class="el" style="font-size:5.3px">118</text></g>
<g><polygon points="885.9,179.8 881.1,188.1 871.5,188.1 866.7,179.8 871.5,171.5 881.1,171.5" fill="#fff" stroke="#0c0c0c" stroke-width="1" stroke-linejoin="round"/><polygon points="884.2,179.8 880.2,186.6 872.3,186.6 868.4,179.8 872.3,173 880.2,173" fill="#d8d8d8" stroke="#161616" stroke-width="0.85" stroke-linejoin="round"/><circle cx="876.3" cy="179.8" r="6.2" fill="#fff" stroke="#222" stroke-width="0.6"/>
<text x="876.3" y="181.7" class="el" style="font-size:5.3px">117</text></g>
<g><polygon points="652.6,182.6 647.8,190.9 638.2,190.9 633.4,182.6 638.2,174.3 647.8,174.3" fill="#fff" stroke="#0c0c0c" stroke-width="1" stroke-linejoin="round"/><polygon points="650.9,182.6 647,189.4 639,189.4 635.1,182.6 639,175.8 647,175.8" fill="#d8d8d8" stroke="#161616" stroke-width="0.85" stroke-linejoin="round"/><circle cx="643" cy="182.6" r="6.2" fill="#fff" stroke="#222" stroke-width="0.6"/>
<text x="643" y="184.8" class="el" style="font-size:6.2px">35</text></g>
<g><polygon points="579,181.6 574.2,189.9 564.6,189.9 559.8,181.6 564.6,173.3 574.2,173.3" fill="#fff" stroke="#0c0c0c" stroke-width="1" stroke-linejoin="round"/><polygon points="577.3,181.6 573.4,188.4 565.4,188.4 561.5,181.6 565.4,174.8 573.4,174.8" fill="#d8d8d8" stroke="#161616" stroke-width="0.85" stroke-linejoin="round"/><circle cx="569.4" cy="181.6" r="6.2" fill="#fff" stroke="#222" stroke-width="0.6"/>
<text x="569.4" y="183.8" class="el" style="font-size:6.2px">44</text></g>
<g><polygon points="961.3,179 956.5,187.3 946.9,187.3 942.1,179 946.9,170.7 956.5,170.7" fill="#fff" stroke="#0c0c0c" stroke-width="1" stroke-linejoin="round"/><polygon points="959.6,179 955.7,185.8 947.8,185.8 943.8,179 947.8,172.2 955.7,172.2" fill="#d8d8d8" stroke="#161616" stroke-width="0.85" stroke-linejoin="round"/><circle cx="951.7" cy="179" r="6.2" fill="#fff" stroke="#222" stroke-width="0.6"/>
<text x="951.7" y="180.9" class="el" style="font-size:5.3px">120</text></g>
<g><polygon points="920.5,188.5 915.7,196.8 906.1,196.8 901.3,188.5 906.1,180.2 915.7,180.2" fill="#fff" stroke="#0c0c0c" stroke-width="1" stroke-linejoin="round"/><polygon points="918.8,188.5 914.9,195.3 906.9,195.3 903,188.5 906.9,181.7 914.9,181.7" fill="#d8d8d8" stroke="#161616" stroke-width="0.85" stroke-linejoin="round"/><circle cx="910.9" cy="188.5" r="6.2" fill="#fff" stroke="#222" stroke-width="0.6"/>
<text x="910.9" y="190.4" class="el" style="font-size:5.3px">116</text></g>
<g><polygon points="618.2,193.4 613.4,201.7 603.8,201.7 599,193.4 603.8,185.1 613.4,185.1" fill="#fff" stroke="#0c0c0c" stroke-width="1" stroke-linejoin="round"/><polygon points="616.5,193.4 612.6,200.2 604.6,200.2 600.7,193.4 604.6,186.6 612.6,186.6" fill="#d8d8d8" stroke="#161616" stroke-width="0.85" stroke-linejoin="round"/><circle cx="608.6" cy="193.4" r="6.2" fill="#fff" stroke="#222" stroke-width="0.6"/>
<text x="608.6" y="195.6" class="el" style="font-size:6.2px">40</text></g>
<g><polygon points="770.5,196 762.2,200.8 753.9,196 753.9,186.4 762.2,181.6 770.5,186.4" fill="#fff" stroke="#0c0c0c" stroke-width="1" stroke-linejoin="round"/><polygon points="769,195.1 762.2,199.1 755.4,195.1 755.4,187.2 762.2,183.3 769,187.2" fill="#d8d8d8" stroke="#161616" stroke-width="0.85" stroke-linejoin="round"/><circle cx="762.2" cy="191.2" r="6.2" fill="#fff" stroke="#222" stroke-width="0.6"/>
<text x="762.2" y="193.4" class="el" style="font-size:6.2px">6</text></g>
<g><polygon points="708.4,200.2 703.6,208.5 694,208.5 689.2,200.2 694,191.9 703.6,191.9" fill="#fff" stroke="#0c0c0c" stroke-width="1" stroke-linejoin="round"/><polygon points="706.7,200.2 702.8,207 694.8,207 690.9,200.2 694.8,193.4 702.8,193.4" fill="#d8d8d8" stroke="#161616" stroke-width="0.85" stroke-linejoin="round"/><circle cx="698.8" cy="200.2" r="6.2" fill="#fff" stroke="#222" stroke-width="0.6"/>
<text x="698.8" y="202.4" class="el" style="font-size:6.2px">30</text></g>
<g><polygon points="738.8,204.2 730.5,209 722.2,204.2 722.2,194.6 730.5,189.8 738.8,194.6" fill="#fff" stroke="#0c0c0c" stroke-width="1" stroke-linejoin="round"/><polygon points="737.3,203.3 730.5,207.3 723.7,203.3 723.7,195.5 730.5,191.5 737.3,195.4" fill="#d8d8d8" stroke="#161616" stroke-width="0.85" stroke-linejoin="round"/><circle cx="730.5" cy="199.4" r="6.2" fill="#fff" stroke="#222" stroke-width="0.6"/>
<text x="730.5" y="201.6" class="el" style="font-size:6.2px">13</text></g>
<g><polygon points="800,203.5 791.7,208.3 783.4,203.5 783.4,193.9 791.7,189.1 800,193.9" fill="#fff" stroke="#0c0c0c" stroke-width="1" stroke-linejoin="round"/><polygon points="798.5,202.6 791.7,206.6 784.9,202.6 784.9,194.8 791.7,190.8 798.5,194.7" fill="#d8d8d8" stroke="#161616" stroke-width="0.85" stroke-linejoin="round"/><circle cx="791.7" cy="198.7" r="6.2" fill="#fff" stroke="#222" stroke-width="0.6"/>
<text x="791.7" y="200.6" class="el" style="font-size:5.3px">113</text></g>
<g><polygon points="832.6,201.3 827.8,209.6 818.2,209.6 813.4,201.3 818.2,193 827.8,193" fill="#fff" stroke="#0c0c0c" stroke-width="1" stroke-linejoin="round"/><polygon points="830.9,201.3 827,208.1 819,208.1 815.1,201.3 819,194.5 827,194.5" fill="#d8d8d8" stroke="#161616" stroke-width="0.85" stroke-linejoin="round"/><circle cx="823" cy="201.3" r="6.2" fill="#fff" stroke="#222" stroke-width="0.6"/>
<text x="823" y="203.2" class="el" style="font-size:5.3px">112</text></g>
<g><polygon points="863.1,206 858.3,214.3 848.7,214.3 843.9,206 848.7,197.7 858.3,197.7" fill="#fff" stroke="#0c0c0c" stroke-width="1" stroke-linejoin="round"/><polygon points="861.4,206 857.5,212.8 849.5,212.8 845.6,206 849.5,199.2 857.5,199.2" fill="#d8d8d8" stroke="#161616" stroke-width="0.85" stroke-linejoin="round"/><circle cx="853.5" cy="206" r="6.2" fill="#fff" stroke="#222" stroke-width="0.6"/>
<text x="853.5" y="207.9" class="el" style="font-size:5.3px">111</text></g>
<g><polygon points="676.6,209.3 671.8,217.6 662.2,217.6 657.4,209.3 662.2,201 671.8,201" fill="#fff" stroke="#0c0c0c" stroke-width="1" stroke-linejoin="round"/><polygon points="674.9,209.3 671,216.1 663,216.1 659.1,209.3 663,202.5 671,202.5" fill="#d8d8d8" stroke="#161616" stroke-width="0.85" stroke-linejoin="round"/><circle cx="667" cy="209.3" r="6.2" fill="#fff" stroke="#222" stroke-width="0.6"/>
<text x="667" y="211.5" class="el" style="font-size:6.2px">36</text></g>
<g><polygon points="591.2,216 586.4,224.3 576.8,224.3 572,216 576.8,207.7 586.4,207.7" fill="#fff" stroke="#0c0c0c" stroke-width="1" stroke-linejoin="round"/><polygon points="589.5,216 585.6,222.8 577.6,222.8 573.7,216 577.6,209.2 585.6,209.2" fill="#d8d8d8" stroke="#161616" stroke-width="0.85" stroke-linejoin="round"/><circle cx="581.6" cy="216" r="6.2" fill="#fff" stroke="#222" stroke-width="0.6"/>
<text x="581.6" y="218.2" class="el" style="font-size:6.2px">45</text></g>
<g><polygon points="947.9,213.9 943.1,222.2 933.5,222.2 928.7,213.9 933.5,205.6 943.1,205.6" fill="#fff" stroke="#0c0c0c" stroke-width="1" stroke-linejoin="round"/><polygon points="946.2,213.9 942.2,220.7 934.3,220.7 930.4,213.9 934.3,207.1 942.2,207.1" fill="#d8d8d8" stroke="#161616" stroke-width="0.85" stroke-linejoin="round"/><circle cx="938.3" cy="213.9" r="6.2" fill="#fff" stroke="#222" stroke-width="0.6"/>
<text x="938.3" y="215.8" class="el" style="font-size:5.3px">115</text></g>
<g><polygon points="755.1,223.3 746.8,228.1 738.5,223.3 738.5,213.7 746.8,208.9 755.1,213.7" fill="#fff" stroke="#0c0c0c" stroke-width="1" stroke-linejoin="round"/><polygon points="753.6,222.4 746.8,226.4 740,222.4 740,214.6 746.8,210.6 753.6,214.5" fill="#d8d8d8" stroke="#161616" stroke-width="0.85" stroke-linejoin="round"/><circle cx="746.8" cy="218.5" r="6.2" fill="#fff" stroke="#222" stroke-width="0.6"/>
<text x="746.8" y="220.7" class="el" style="font-size:6.2px">7</text></g>
<g><polygon points="785.6,224.3 777.3,229.1 769,224.3 769,214.7 777.3,209.9 785.6,214.7" fill="#fff" stroke="#0c0c0c" stroke-width="1" stroke-linejoin="round"/><polygon points="784.1,223.4 777.3,227.4 770.5,223.4 770.5,215.6 777.3,211.6 784.1,215.5" fill="#d8d8d8" stroke="#161616" stroke-width="0.85" stroke-linejoin="round"/><circle cx="777.3" cy="219.5" r="6.2" fill="#fff" stroke="#222" stroke-width="0.6"/>
<text x="777.3" y="221.4" class="el" style="font-size:5.3px">107</text></g>
<g><polygon points="900.6,219.2 895.8,227.5 886.2,227.5 881.4,219.2 886.2,210.9 895.8,210.9" fill="#fff" stroke="#0c0c0c" stroke-width="1" stroke-linejoin="round"/><polygon points="898.9,219.2 895,226 887,226 883.1,219.2 887,212.4 895,212.4" fill="#d8d8d8" stroke="#161616" stroke-width="0.85" stroke-linejoin="round"/><circle cx="891" cy="219.2" r="6.2" fill="#fff" stroke="#222" stroke-width="0.6"/>
<text x="891" y="221.1" class="el" style="font-size:5.3px">110</text></g>
<g><polygon points="639.5,221 634.7,229.3 625.1,229.3 620.3,221 625.1,212.7 634.7,212.7" fill="#fff" stroke="#0c0c0c" stroke-width="1" stroke-linejoin="round"/><polygon points="637.8,221 633.9,227.8 625.9,227.8 622,221 625.9,214.2 633.9,214.2" fill="#d8d8d8" stroke="#161616" stroke-width="0.85" stroke-linejoin="round"/><circle cx="629.9" cy="221" r="6.2" fill="#fff" stroke="#222" stroke-width="0.6"/>
<text x="629.9" y="223.2" class="el" style="font-size:6.2px">41</text></g>
<g><polygon points="722.8,231 714.5,235.8 706.2,231 706.2,221.4 714.5,216.6 722.8,221.4" fill="#fff" stroke="#0c0c0c" stroke-width="1" stroke-linejoin="round"/><polygon points="721.3,230.1 714.5,234.1 707.7,230.1 707.7,222.2 714.5,218.3 721.3,222.2" fill="#d8d8d8" stroke="#161616" stroke-width="0.85" stroke-linejoin="round"/><circle cx="714.5" cy="226.2" r="6.2" fill="#fff" stroke="#222" stroke-width="0.6"/>
<text x="714.5" y="228.4" class="el" style="font-size:6.2px">31</text></g>
<g><polygon points="815.6,229.5 807.3,234.3 799,229.5 799,219.9 807.3,215.1 815.6,219.9" fill="#fff" stroke="#0c0c0c" stroke-width="1" stroke-linejoin="round"/><polygon points="814.1,228.6 807.3,232.6 800.5,228.6 800.5,220.8 807.3,216.8 814.1,220.7" fill="#d8d8d8" stroke="#161616" stroke-width="0.85" stroke-linejoin="round"/><circle cx="807.3" cy="224.7" r="6.2" fill="#fff" stroke="#222" stroke-width="0.6"/>
<text x="807.3" y="226.6" class="el" style="font-size:5.3px">106</text></g>
<g><polygon points="697,232.2 692.2,240.5 682.6,240.5 677.8,232.2 682.6,223.9 692.2,223.9" fill="#fff" stroke="#0c0c0c" stroke-width="1" stroke-linejoin="round"/><polygon points="695.3,232.2 691.4,239 683.4,239 679.5,232.2 683.4,225.4 691.4,225.4" fill="#d8d8d8" stroke="#161616" stroke-width="0.85" stroke-linejoin="round"/><circle cx="687.4" cy="232.2" r="6.2" fill="#fff" stroke="#222" stroke-width="0.6"/>
<text x="687.4" y="234.4" class="el" style="font-size:6.2px">37</text></g>
<g><polygon points="844.8,230 840,238.3 830.4,238.3 825.6,230 830.4,221.7 840,221.7" fill="#fff" stroke="#0c0c0c" stroke-width="1" stroke-linejoin="round"/><polygon points="843.1,230 839.2,236.8 831.2,236.8 827.3,230 831.2,223.2 839.2,223.2" fill="#d8d8d8" stroke="#161616" stroke-width="0.85" stroke-linejoin="round"/><circle cx="835.2" cy="230" r="6.2" fill="#fff" stroke="#222" stroke-width="0.6"/>
<text x="835.2" y="231.9" class="el" style="font-size:5.3px">105</text></g>
<g><polygon points="771.2,245.6 762.9,250.4 754.6,245.6 754.6,236 762.9,231.2 771.2,236" fill="#fff" stroke="#0c0c0c" stroke-width="1" stroke-linejoin="round"/><polygon points="769.7,244.8 762.9,248.7 756.1,244.8 756.1,236.9 762.9,232.9 769.7,236.8" fill="#d8d8d8" stroke="#161616" stroke-width="0.85" stroke-linejoin="round"/><circle cx="762.9" cy="240.8" r="6.2" fill="#fff" stroke="#222" stroke-width="0.6"/>
<text x="762.9" y="242.5" class="el" style="font-size:4.6px">REF</text></g>
<g><polygon points="869.9,242.3 865.1,250.6 855.5,250.6 850.7,242.3 855.5,234 865.1,234" fill="#fff" stroke="#0c0c0c" stroke-width="1" stroke-linejoin="round"/><polygon points="868.2,242.3 864.2,249.1 856.3,249.1 852.4,242.3 856.3,235.5 864.2,235.5" fill="#d8d8d8" stroke="#161616" stroke-width="0.85" stroke-linejoin="round"/><circle cx="860.3" cy="242.3" r="6.2" fill="#fff" stroke="#222" stroke-width="0.6"/>
<text x="860.3" y="244.2" class="el" style="font-size:5.3px">104</text></g>
<g><polygon points="927.6,242.4 922.8,250.7 913.2,250.7 908.4,242.4 913.2,234.1 922.8,234.1" fill="#fff" stroke="#0c0c0c" stroke-width="1" stroke-linejoin="round"/><polygon points="925.9,242.4 922,249.2 914,249.2 910.1,242.4 914,235.6 922,235.6" fill="#d8d8d8" stroke="#161616" stroke-width="0.85" stroke-linejoin="round"/><circle cx="918" cy="242.4" r="6.2" fill="#fff" stroke="#222" stroke-width="0.6"/>
<text x="918" y="244.3" class="el" style="font-size:5.3px">109</text></g>
<g><polygon points="968.3,244.4 963.5,252.7 953.9,252.7 949.1,244.4 953.9,236.1 963.5,236.1" fill="#fff" stroke="#0c0c0c" stroke-width="1" stroke-linejoin="round"/><polygon points="966.6,244.4 962.7,251.2 954.8,251.2 950.8,244.4 954.8,237.6 962.7,237.6" fill="#d8d8d8" stroke="#161616" stroke-width="0.85" stroke-linejoin="round"/><circle cx="958.7" cy="244.4" r="6.2" fill="#fff" stroke="#222" stroke-width="0.6"/>
<text x="958.7" y="246.3" class="el" style="font-size:5.3px">114</text></g>
<g><polygon points="570.4,245.7 565.6,254 556,254 551.2,245.7 556,237.4 565.6,237.4" fill="#fff" stroke="#0c0c0c" stroke-width="1" stroke-linejoin="round"/><polygon points="568.7,245.7 564.8,252.5 556.8,252.5 552.9,245.7 556.8,238.9 564.8,238.9" fill="#d8d8d8" stroke="#161616" stroke-width="0.85" stroke-linejoin="round"/><circle cx="560.8" cy="245.7" r="6.2" fill="#fff" stroke="#222" stroke-width="0.6"/>
<text x="560.8" y="247.9" class="el" style="font-size:6.2px">49</text></g>
<g><polygon points="609.4,243.6 604.6,251.9 595,251.9 590.2,243.6 595,235.3 604.6,235.3" fill="#fff" stroke="#0c0c0c" stroke-width="1" stroke-linejoin="round"/><polygon points="607.7,243.6 603.8,250.4 595.8,250.4 591.9,243.6 595.8,236.8 603.8,236.8" fill="#d8d8d8" stroke="#161616" stroke-width="0.85" stroke-linejoin="round"/><circle cx="599.8" cy="243.6" r="6.2" fill="#fff" stroke="#222" stroke-width="0.6"/>
<text x="599.8" y="245.8" class="el" style="font-size:6.2px">46</text></g>
<g><polygon points="669.8,244.6 665,252.9 655.4,252.9 650.6,244.6 655.4,236.3 665,236.3" fill="#fff" stroke="#0c0c0c" stroke-width="1" stroke-linejoin="round"/><polygon points="668.1,244.6 664.2,251.4 656.2,251.4 652.3,244.6 656.2,237.8 664.2,237.8" fill="#d8d8d8" stroke="#161616" stroke-width="0.85" stroke-linejoin="round"/><circle cx="660.2" cy="244.6" r="6.2" fill="#fff" stroke="#222" stroke-width="0.6"/>
<text x="660.2" y="246.8" class="el" style="font-size:6.2px">42</text></g>
<g><polygon points="743.1,254.4 734.8,259.2 726.5,254.4 726.5,244.8 734.8,240 743.1,244.8" fill="#fff" stroke="#0c0c0c" stroke-width="1" stroke-linejoin="round"/><polygon points="741.6,253.5 734.8,257.5 728,253.5 728,245.7 734.8,241.7 741.6,245.6" fill="#d8d8d8" stroke="#161616" stroke-width="0.85" stroke-linejoin="round"/><circle cx="734.8" cy="249.6" r="6.2" fill="#fff" stroke="#222" stroke-width="0.6"/>
<text x="734.8" y="251.8" class="el" style="font-size:6.2px">32</text></g>
<g><polygon points="796.7,253.7 788.4,258.5 780.1,253.7 780.1,244.1 788.4,239.3 796.7,244.1" fill="#fff" stroke="#0c0c0c" stroke-width="1" stroke-linejoin="round"/><polygon points="795.2,252.8 788.4,256.8 781.6,252.8 781.6,245 788.4,241 795.2,244.9" fill="#d8d8d8" stroke="#161616" stroke-width="0.85" stroke-linejoin="round"/><circle cx="788.4" cy="248.9" r="6.2" fill="#fff" stroke="#222" stroke-width="0.6"/>
<text x="788.4" y="251.1" class="el" style="font-size:6.2px">81</text></g>
<g><polygon points="717.9,262.8 709.6,267.6 701.3,262.8 701.3,253.2 709.6,248.4 717.9,253.2" fill="#fff" stroke="#0c0c0c" stroke-width="1" stroke-linejoin="round"/><polygon points="716.4,261.9 709.6,265.9 702.8,261.9 702.8,254.1 709.6,250.1 716.4,254" fill="#d8d8d8" stroke="#161616" stroke-width="0.85" stroke-linejoin="round"/><circle cx="709.6" cy="258" r="6.2" fill="#fff" stroke="#222" stroke-width="0.6"/>
<text x="709.6" y="260.2" class="el" style="font-size:6.2px">38</text></g>
<g><polygon points="818.4,261.7 810.1,266.5 801.8,261.7 801.8,252.1 810.1,247.3 818.4,252.1" fill="#fff" stroke="#0c0c0c" stroke-width="1" stroke-linejoin="round"/><polygon points="816.9,260.8 810.1,264.8 803.3,260.8 803.3,252.9 810.1,249 816.9,252.9" fill="#d8d8d8" stroke="#161616" stroke-width="0.85" stroke-linejoin="round"/><circle cx="810.1" cy="256.9" r="6.2" fill="#fff" stroke="#222" stroke-width="0.6"/>
<text x="810.1" y="259.1" class="el" style="font-size:6.2px">88</text></g>
<g><polygon points="900.1,259.2 895.3,267.5 885.7,267.5 880.9,259.2 885.7,250.9 895.3,250.9" fill="#fff" stroke="#0c0c0c" stroke-width="1" stroke-linejoin="round"/><polygon points="898.4,259.2 894.5,266 886.5,266 882.6,259.2 886.5,252.4 894.5,252.4" fill="#d8d8d8" stroke="#161616" stroke-width="0.85" stroke-linejoin="round"/><circle cx="890.5" cy="259.2" r="6.2" fill="#fff" stroke="#222" stroke-width="0.6"/>
<text x="890.5" y="261.1" class="el" style="font-size:5.3px">103</text></g>
<g><polygon points="639.1,261.2 634.3,269.5 624.7,269.5 619.9,261.2 624.7,252.9 634.3,252.9" fill="#fff" stroke="#0c0c0c" stroke-width="1" stroke-linejoin="round"/><polygon points="637.4,261.2 633.5,268 625.5,268 621.6,261.2 625.5,254.4 633.5,254.4" fill="#d8d8d8" stroke="#161616" stroke-width="0.85" stroke-linejoin="round"/><circle cx="629.5" cy="261.2" r="6.2" fill="#fff" stroke="#222" stroke-width="0.6"/>
<text x="629.5" y="263.4" class="el" style="font-size:6.2px">47</text></g>
<g><polygon points="843.3,263.3 838.5,271.6 828.9,271.6 824.1,263.3 828.9,255 838.5,255" fill="#fff" stroke="#0c0c0c" stroke-width="1" stroke-linejoin="round"/><polygon points="841.6,263.3 837.7,270.1 829.8,270.1 825.8,263.3 829.8,256.5 837.7,256.5" fill="#d8d8d8" stroke="#161616" stroke-width="0.85" stroke-linejoin="round"/><circle cx="833.7" cy="263.3" r="6.2" fill="#fff" stroke="#222" stroke-width="0.6"/>
<text x="833.7" y="265.5" class="el" style="font-size:6.2px">94</text></g>
<g><polygon points="696.4,265.5 691.6,273.8 682,273.8 677.2,265.5 682,257.2 691.6,257.2" fill="#fff" stroke="#0c0c0c" stroke-width="1" stroke-linejoin="round"/><polygon points="694.7,265.5 690.8,272.3 682.8,272.3 678.9,265.5 682.8,258.7 690.8,258.7" fill="#d8d8d8" stroke="#161616" stroke-width="0.85" stroke-linejoin="round"/><circle cx="686.8" cy="265.5" r="6.2" fill="#fff" stroke="#222" stroke-width="0.6"/>
<text x="686.8" y="267.7" class="el" style="font-size:6.2px">43</text></g>
<g><polygon points="946.4,266.1 941.6,274.4 932,274.4 927.2,266.1 932,257.8 941.6,257.8" fill="#fff" stroke="#0c0c0c" stroke-width="1" stroke-linejoin="round"/><polygon points="944.7,266.1 940.8,272.9 932.8,272.9 928.9,266.1 932.8,259.3 940.8,259.3" fill="#d8d8d8" stroke="#161616" stroke-width="0.85" stroke-linejoin="round"/><circle cx="936.8" cy="266.1" r="6.2" fill="#fff" stroke="#222" stroke-width="0.6"/>
<text x="936.8" y="267.8" class="el" style="font-size:4.6px">EAR</text></g>
<g><polygon points="770.1,273.1 761.8,277.9 753.5,273.1 753.5,263.5 761.8,258.7 770.1,263.5" fill="#fff" stroke="#0c0c0c" stroke-width="1" stroke-linejoin="round"/><polygon points="768.6,272.2 761.8,276.2 755,272.2 755,264.4 761.8,260.4 768.6,264.4" fill="#d8d8d8" stroke="#161616" stroke-width="0.85" stroke-linejoin="round"/><circle cx="761.8" cy="268.3" r="6.2" fill="#fff" stroke="#222" stroke-width="0.6"/>
<text x="761.8" y="270.5" class="el" style="font-size:6.2px">55</text></g>
<g><polygon points="867.4,270.8 862.6,279.1 853,279.1 848.2,270.8 853,262.5 862.6,262.5" fill="#fff" stroke="#0c0c0c" stroke-width="1" stroke-linejoin="round"/><polygon points="865.7,270.8 861.8,277.6 853.8,277.6 849.9,270.8 853.8,264 861.8,264" fill="#d8d8d8" stroke="#161616" stroke-width="0.85" stroke-linejoin="round"/><circle cx="857.8" cy="270.8" r="6.2" fill="#fff" stroke="#222" stroke-width="0.6"/>
<text x="857.8" y="273" class="el" style="font-size:6.2px">99</text></g>
<g><polygon points="671.3,271.5 666.5,279.8 656.9,279.8 652.1,271.5 656.9,263.2 666.5,263.2" fill="#fff" stroke="#0c0c0c" stroke-width="1" stroke-linejoin="round"/><polygon points="669.6,271.5 665.7,278.3 657.8,278.3 653.8,271.5 657.8,264.7 665.7,264.7" fill="#d8d8d8" stroke="#161616" stroke-width="0.85" stroke-linejoin="round"/><circle cx="661.7" cy="271.5" r="6.2" fill="#fff" stroke="#222" stroke-width="0.6"/>
<text x="661.7" y="273.7" class="el" style="font-size:6.2px">48</text></g>
<g><polygon points="591.8,271.5 587,279.8 577.4,279.8 572.6,271.5 577.4,263.2 587,263.2" fill="#fff" stroke="#0c0c0c" stroke-width="1" stroke-linejoin="round"/><polygon points="590.1,271.5 586.2,278.3 578.2,278.3 574.3,271.5 578.2,264.7 586.2,264.7" fill="#d8d8d8" stroke="#161616" stroke-width="0.85" stroke-linejoin="round"/><circle cx="582.2" cy="271.5" r="6.2" fill="#fff" stroke="#222" stroke-width="0.6"/>
<text x="582.2" y="273.2" class="el" style="font-size:4.6px">EAR</text></g>
<g><polygon points="740.9,285.9 732.6,290.7 724.3,285.9 724.3,276.3 732.6,271.5 740.9,276.3" fill="#fff" stroke="#0c0c0c" stroke-width="1" stroke-linejoin="round"/><polygon points="739.4,285.1 732.6,289 725.8,285.1 725.8,277.2 732.6,273.2 739.4,277.2" fill="#d8d8d8" stroke="#161616" stroke-width="0.85" stroke-linejoin="round"/><circle cx="732.6" cy="281.1" r="6.2" fill="#fff" stroke="#222" stroke-width="0.6"/>
<text x="732.6" y="283.3" class="el" style="font-size:6.2px">54</text></g>
<g><polygon points="798.9,284.6 790.6,289.4 782.3,284.6 782.3,275 790.6,270.2 798.9,275" fill="#fff" stroke="#0c0c0c" stroke-width="1" stroke-linejoin="round"/><polygon points="797.4,283.8 790.6,287.7 783.8,283.8 783.8,275.9 790.6,271.9 797.4,275.9" fill="#d8d8d8" stroke="#161616" stroke-width="0.85" stroke-linejoin="round"/><circle cx="790.6" cy="279.8" r="6.2" fill="#fff" stroke="#222" stroke-width="0.6"/>
<text x="790.6" y="282" class="el" style="font-size:6.2px">80</text></g>
<g><polygon points="920.8,287.6 916,295.9 906.4,295.9 901.6,287.6 906.4,279.3 916,279.3" fill="#fff" stroke="#0c0c0c" stroke-width="1" stroke-linejoin="round"/><polygon points="919.1,287.6 915.2,294.4 907.2,294.4 903.3,287.6 907.2,280.8 915.2,280.8" fill="#d8d8d8" stroke="#161616" stroke-width="0.85" stroke-linejoin="round"/><circle cx="911.2" cy="287.6" r="6.2" fill="#fff" stroke="#222" stroke-width="0.6"/>
<text x="911.2" y="289.5" class="el" style="font-size:5.3px">102</text></g>
<g><polygon points="825.5,290.1 820.7,298.4 811.1,298.4 806.3,290.1 811.1,281.8 820.7,281.8" fill="#fff" stroke="#0c0c0c" stroke-width="1" stroke-linejoin="round"/><polygon points="823.8,290.1 819.9,296.9 811.9,296.9 808,290.1 811.9,283.3 819.9,283.3" fill="#d8d8d8" stroke="#161616" stroke-width="0.85" stroke-linejoin="round"/><circle cx="815.9" cy="290.1" r="6.2" fill="#fff" stroke="#222" stroke-width="0.6"/>
<text x="815.9" y="292.3" class="el" style="font-size:6.2px">87</text></g>
<g><polygon points="616.5,290.6 611.7,298.9 602.1,298.9 597.3,290.6 602.1,282.3 611.7,282.3" fill="#fff" stroke="#0c0c0c" stroke-width="1" stroke-linejoin="round"/><polygon points="614.8,290.6 610.9,297.4 602.9,297.4 599,290.6 602.9,283.8 610.9,283.8" fill="#d8d8d8" stroke="#161616" stroke-width="0.85" stroke-linejoin="round"/><circle cx="606.9" cy="290.6" r="6.2" fill="#fff" stroke="#222" stroke-width="0.6"/>
<text x="606.9" y="292.8" class="el" style="font-size:6.2px">50</text></g>
<g><polygon points="717.2,292.7 712.4,301 702.8,301 698,292.7 702.8,284.4 712.4,284.4" fill="#fff" stroke="#0c0c0c" stroke-width="1" stroke-linejoin="round"/><polygon points="715.5,292.7 711.6,299.5 703.6,299.5 699.7,292.7 703.6,285.9 711.6,285.9" fill="#d8d8d8" stroke="#161616" stroke-width="0.85" stroke-linejoin="round"/><circle cx="707.6" cy="292.7" r="6.2" fill="#fff" stroke="#222" stroke-width="0.6"/>
<text x="707.6" y="294.9" class="el" style="font-size:6.2px">53</text></g>
<g><polygon points="960.2,292.3 955.4,300.6 945.8,300.6 941,292.3 945.8,284 955.4,284" fill="#fff" stroke="#0c0c0c" stroke-width="1" stroke-linejoin="round"/><polygon points="958.5,292.3 954.6,299.1 946.6,299.1 942.7,292.3 946.6,285.5 954.6,285.5" fill="#d8d8d8" stroke="#161616" stroke-width="0.85" stroke-linejoin="round"/><circle cx="950.6" cy="292.3" r="6.2" fill="#fff" stroke="#222" stroke-width="0.6"/>
<text x="950.6" y="294.2" class="el" style="font-size:5.3px">108</text></g>
<g><polygon points="770.1,298.2 761.8,303 753.5,298.2 753.5,288.6 761.8,283.8 770.1,288.6" fill="#fff" stroke="#0c0c0c" stroke-width="1" stroke-linejoin="round"/><polygon points="768.6,297.3 761.8,301.3 755,297.3 755,289.4 761.8,285.5 768.6,289.4" fill="#d8d8d8" stroke="#161616" stroke-width="0.85" stroke-linejoin="round"/><circle cx="761.8" cy="293.4" r="6.2" fill="#fff" stroke="#222" stroke-width="0.6"/>
<text x="761.8" y="295.6" class="el" style="font-size:6.2px">62</text></g>
<g><polygon points="577.9,294.4 573.1,302.7 563.5,302.7 558.7,294.4 563.5,286.1 573.1,286.1" fill="#fff" stroke="#0c0c0c" stroke-width="1" stroke-linejoin="round"/><polygon points="576.2,294.4 572.2,301.2 564.3,301.2 560.4,294.4 564.3,287.6 572.2,287.6" fill="#d8d8d8" stroke="#161616" stroke-width="0.85" stroke-linejoin="round"/><circle cx="568.3" cy="294.4" r="6.2" fill="#fff" stroke="#222" stroke-width="0.6"/>
<text x="568.3" y="296.6" class="el" style="font-size:6.2px">56</text></g>
<g><polygon points="852.3,295.9 847.5,304.2 837.9,304.2 833.1,295.9 837.9,287.6 847.5,287.6" fill="#fff" stroke="#0c0c0c" stroke-width="1" stroke-linejoin="round"/><polygon points="850.6,295.9 846.7,302.7 838.8,302.7 834.8,295.9 838.8,289.1 846.7,289.1" fill="#d8d8d8" stroke="#161616" stroke-width="0.85" stroke-linejoin="round"/><circle cx="842.7" cy="295.9" r="6.2" fill="#fff" stroke="#222" stroke-width="0.6"/>
<text x="842.7" y="298.1" class="el" style="font-size:6.2px">93</text></g>
<g><polygon points="688.4,299.2 683.6,307.5 674,307.5 669.2,299.2 674,290.9 683.6,290.9" fill="#fff" stroke="#0c0c0c" stroke-width="1" stroke-linejoin="round"/><polygon points="686.7,299.2 682.8,306 674.8,306 670.9,299.2 674.8,292.4 682.8,292.4" fill="#d8d8d8" stroke="#161616" stroke-width="0.85" stroke-linejoin="round"/><circle cx="678.8" cy="299.2" r="6.2" fill="#fff" stroke="#222" stroke-width="0.6"/>
<text x="678.8" y="301.4" class="el" style="font-size:6.2px">52</text></g>
<g><polygon points="887.2,299.8 882.4,308.1 872.8,308.1 868,299.8 872.8,291.5 882.4,291.5" fill="#fff" stroke="#0c0c0c" stroke-width="1" stroke-linejoin="round"/><polygon points="885.5,299.8 881.6,306.6 873.6,306.6 869.7,299.8 873.6,293 881.6,293" fill="#d8d8d8" stroke="#161616" stroke-width="0.85" stroke-linejoin="round"/><circle cx="877.6" cy="299.8" r="6.2" fill="#fff" stroke="#222" stroke-width="0.6"/>
<text x="877.6" y="302" class="el" style="font-size:6.2px">98</text></g>
<g><polygon points="650.9,300.9 646.1,309.2 636.5,309.2 631.7,300.9 636.5,292.6 646.1,292.6" fill="#fff" stroke="#0c0c0c" stroke-width="1" stroke-linejoin="round"/><polygon points="649.2,300.9 645.2,307.7 637.3,307.7 633.4,300.9 637.3,294.1 645.2,294.1" fill="#d8d8d8" stroke="#161616" stroke-width="0.85" stroke-linejoin="round"/><circle cx="641.3" cy="300.9" r="6.2" fill="#fff" stroke="#222" stroke-width="0.6"/>
<text x="641.3" y="303.1" class="el" style="font-size:6.2px">51</text></g>
<rect x="695.5" y="145.6" width="15" height="8.6" fill="#fff"/><text x="703" y="154" class="big">F3</text>
<rect x="811.8" y="145.9" width="15" height="8.6" fill="#fff"/><text x="819.3" y="154.3" class="big">F4</text>
<rect x="679.9" y="219.2" width="15" height="8.6" fill="#fff"/><text x="687.4" y="227.6" class="big">C3</text>
<rect x="828.3" y="217" width="15" height="8.6" fill="#fff"/><text x="835.8" y="225.4" class="big">C4</text>
<rect x="700.3" y="279.3" width="15" height="8.6" fill="#fff"/><text x="707.8" y="287.7" class="big">P3</text>
<rect x="808.4" y="277.1" width="15" height="8.6" fill="#fff"/><text x="815.9" y="285.5" class="big">P4</text>
<ellipse cx="649" cy="161.5" rx="31.4" ry="32.4" fill="none" stroke="#000" stroke-width="2.7"/>
<ellipse cx="871.7" cy="257.4" rx="31.2" ry="32.6" fill="none" stroke="#000" stroke-width="2.7"/>
<path d="M617.7 157.6H552" stroke="#000" stroke-width="2.7"/>
<path d="M522.6 157.6L554.3 143.8V171.6Z" fill="#000"/>
<path d="M902.8 256.3H973" stroke="#000" stroke-width="2.7"/>
<path d="M1003.4 256.3L971.6 242V270.2Z" fill="#000"/>
</g>
<g id="bars">
<rect x="630.8" y="391.9" width="12.5" height="136.4" fill="#14a84e"/>
<rect x="647.6" y="378.4" width="12.6" height="149.9" fill="#0e1f66"/>
<rect x="665.2" y="440.5" width="12.5" height="87.8" fill="#f5161b"/>
<rect x="706" y="408" width="12.5" height="120.3" fill="url(#hTeal)"/>
<rect x="722.9" y="409.5" width="12.8" height="118.8" fill="url(#hGrey)"/>
<rect x="739.8" y="409.5" width="12.4" height="118.8" fill="url(#hRed)"/>
<rect x="781" y="446.9" width="12.5" height="81.4" fill="#7ccb3c"/>
<rect x="797.5" y="433.6" width="13.3" height="94.7" fill="#1ea6e6"/>
<rect x="813.9" y="428" width="13" height="100.3" fill="#df5f10"/>
<rect x="855.7" y="430.5" width="13.6" height="97.8" fill="url(#hLg)"/>
<rect x="873" y="454.6" width="13.4" height="73.7" fill="url(#hCy)"/>
<rect x="889.5" y="403.3" width="13.3" height="125" fill="url(#hTan)"/>
<path d="M637 376.2V403.3M634.4 376.2H639.6M634.4 403.3H639.6M653.9 365.7V390.8M651.3 365.7H656.5M651.3 390.8H656.5M671.5 428V454M668.9 428H674.1M668.9 454H674.1M712.2 395.1V419.2M709.6 395.1H714.9M709.6 419.2H714.9M729.3 397.3V422.6M726.7 397.3H731.9M726.7 422.6H731.9M746 395.8V422.6M743.4 395.8H748.6M743.4 422.6H748.6M787.2 433.8V459.3M784.6 433.8H789.9M784.6 459.3H789.9M804.1 419.8V446.9M801.5 419.8H806.8M801.5 446.9H806.8M820.4 413.4V441.2M817.8 413.4H823M817.8 441.2H823M862.5 417.2V442.4M859.9 417.2H865.1M859.9 442.4H865.1M879.7 441.7V468.6M877.1 441.7H882.3M877.1 468.6H882.3M896.1 388.7V417.7M893.5 388.7H898.8M893.5 417.7H898.8" stroke="#555" stroke-width="0.9" fill="none"/>
<path d="M607.2 333.3V528.3H903" fill="none" stroke="#444" stroke-width="1.1"/>
<text x="603" y="530.9" class="b" font-size="9" fill="#111" text-anchor="end">360</text>
<text x="603" y="509.6" class="b" font-size="9" fill="#111" text-anchor="end">370</text>
<text x="603" y="488.3" class="b" font-size="9" fill="#111" text-anchor="end">380</text>
<text x="603" y="466.9" class="b" font-size="9" fill="#111" text-anchor="end">390</text>
<text x="603" y="445.6" class="b" font-size="9" fill="#111" text-anchor="end">400</text>
<text x="603" y="424.3" class="b" font-size="9" fill="#111" text-anchor="end">410</text>
<text x="603" y="403" class="b" font-size="9" fill="#111" text-anchor="end">420</text>
<text x="603" y="381.6" class="b" font-size="9" fill="#111" text-anchor="end">430</text>
<text x="603" y="360.3" class="b" font-size="9" fill="#111" text-anchor="end">440</text>
<text transform="translate(578.8,490.4) rotate(-90)" class="b" font-size="11.6" fill="#111" textLength="101.6" lengthAdjust="spacingAndGlyphs" xml:space="preserve">miliseconds  (ms)</text>
<text x="703" y="553.2" class="b" font-size="18.1" fill="#111" textLength="128.8" lengthAdjust="spacingAndGlyphs">Dietary groups</text>
<path d="M629.1 338.4V335H901.6V338.4" fill="none" stroke="#333" stroke-width="0.9"/>
<path d="M636.9 376.2V355H672.3V423M653.8 366.2V364H672.3" fill="none" stroke="#222" stroke-width="0.9"/>
<path d="M878.9 441.7V356.5H895.7V380.2" fill="none" stroke="#222" stroke-width="0.9"/>
<text x="767.2" y="339.7" class="b" font-size="19.5" fill="#111" text-anchor="middle">**</text>
<text x="654.4" y="360.2" class="b" font-size="19.5" fill="#111" text-anchor="middle">**</text>
<text x="662.4" y="368.7" class="b" font-size="19.5" fill="#111" text-anchor="middle">**</text>
<text x="887.2" y="361.7" class="b" font-size="19.5" fill="#111" text-anchor="middle">*</text>
<text x="844.7" y="332.4" class="b" font-size="4.6" fill="#000" textLength="55.8" lengthAdjust="spacingAndGlyphs">Group by ROIs interaction</text>
<text x="868.7" y="345.8" class="b" font-size="4.6" fill="#000" textLength="31.2" lengthAdjust="spacingAndGlyphs"><tspan font-style="italic">Post-hoc</tspan> tests</text>
<rect x="913.3" y="466.8" width="81" height="59.7" fill="#fff" stroke="#444" stroke-width="1.1"/>
<text x="942.8" y="477.9" class="b" font-size="7" fill="#222" text-anchor="middle">FL</text>
<text x="955.7" y="477.9" class="b" font-size="7" fill="#222" text-anchor="middle">FR</text>
<text x="968.3" y="477.9" class="b" font-size="7" fill="#222" text-anchor="middle">TL</text>
<text x="980.3" y="477.9" class="b" font-size="7" fill="#222" text-anchor="middle">TR</text>
<text x="921.5" y="490.8" class="b" font-size="10.6" fill="#111">BF</text>
<rect x="939.7" y="482" width="6.4" height="9.2" fill="#14a84e"/>
<rect x="951.9" y="482" width="6.4" height="9.2" fill="url(#hTeal)"/>
<rect x="965" y="482" width="6.4" height="9.2" fill="#7ccb3c"/>
<rect x="977.2" y="482" width="6.4" height="9.2" fill="url(#hLg)"/>
<text x="921.5" y="504.8" class="b" font-size="10.6" fill="#111">MF</text>
<rect x="939.7" y="496.7" width="6.4" height="9.2" fill="#0e1f66"/>
<rect x="951.9" y="496.7" width="6.4" height="9.2" fill="url(#hGrey)"/>
<rect x="965" y="496.7" width="6.4" height="9.2" fill="#1ea6e6"/>
<rect x="977.2" y="496.7" width="6.4" height="9.2" fill="url(#hCy)"/>
<text x="921.5" y="519.5" class="b" font-size="10.6" fill="#111">SF</text>
<rect x="939.7" y="510.8" width="6.4" height="9.2" fill="#f5161b"/>
<rect x="951.9" y="510.8" width="6.4" height="9.2" fill="url(#hRed)"/>
<rect x="965" y="510.8" width="6.4" height="9.2" fill="#df5f10"/>
<rect x="977.2" y="510.8" width="6.4" height="9.2" fill="url(#hTan)"/>
</g>
<g id="right-chart">
<text x="1041.6" y="52.2" class="b" font-size="13" fill="#111" textLength="91.2" lengthAdjust="spacingAndGlyphs">Temporal right</text>
<path d="M1056.4 69.7V434M1028 252.3H1522.3" stroke="#9a9a9a" stroke-width="1.2" fill="none"/>
<path d="M1053.6 69.8H1056.4" stroke="#9a9a9a" stroke-width="1"/>
<text x="1050" y="74.3" class="tk" text-anchor="end">-2</text>
<path d="M1053.6 115.3H1056.4" stroke="#9a9a9a" stroke-width="1"/>
<text x="1050" y="119.5" class="tk" text-anchor="end">-1.5</text>
<path d="M1053.6 160.9H1056.4" stroke="#9a9a9a" stroke-width="1"/>
<text x="1050" y="164.7" class="tk" text-anchor="end">-1</text>
<path d="M1053.6 206.4H1056.4" stroke="#9a9a9a" stroke-width="1"/>
<text x="1050" y="209.9" class="tk" text-anchor="end">-.5</text>
<path d="M1053.6 252H1056.4" stroke="#9a9a9a" stroke-width="1"/>
<text x="1049" y="255.1" class="tk" text-anchor="end">0</text>
<path d="M1053.6 297.6H1056.4" stroke="#9a9a9a" stroke-width="1"/>
<text x="1050" y="300.3" class="tk" text-anchor="end">.5</text>
<path d="M1053.6 343.1H1056.4" stroke="#9a9a9a" stroke-width="1"/>
<text x="1050" y="345.5" class="tk" text-anchor="end">1</text>
<path d="M1053.6 388.6H1056.4" stroke="#9a9a9a" stroke-width="1"/>
<text x="1050" y="390.7" class="tk" text-anchor="end">1.5</text>
<path d="M1053.6 434.2H1056.4" stroke="#9a9a9a" stroke-width="1"/>
<text x="1050" y="435.9" class="tk" text-anchor="end">2</text>
<path d="M1106.5 249.5V252.3" stroke="#9a9a9a" stroke-width="1"/>
<path d="M1199.5 249.5V252.3" stroke="#9a9a9a" stroke-width="1"/>
<path d="M1292.4 249.5V252.3" stroke="#9a9a9a" stroke-width="1"/>
<path d="M1385.8 249.5V252.3" stroke="#9a9a9a" stroke-width="1"/>
<path d="M1479.4 249.5V252.3" stroke="#9a9a9a" stroke-width="1"/>
<text transform="translate(1042,317.2) rotate(-90)" class="b" font-size="11.3" fill="#111" textLength="56.4" lengthAdjust="spacingAndGlyphs" xml:space="preserve">microvolts</text>
<text transform="translate(1042,235.6) rotate(-90)" class="b" font-size="11.8" fill="#111" textLength="22.8" lengthAdjust="spacingAndGlyphs" xml:space="preserve">(µV)</text>
<g fill="#72c13e"><circle cx="1026.8" cy="275.2" r="1.25"/><circle cx="1027.5" cy="270.7" r="1.25"/><circle cx="1028.2" cy="266.2" r="1.25"/><circle cx="1029.2" cy="261.6" r="1.25"/><circle cx="1030.3" cy="257" r="1.25"/><circle cx="1031.6" cy="252.6" r="1.25"/><circle cx="1033.2" cy="248.3" r="1.25"/><circle cx="1035.7" cy="244.3" r="1.25"/><circle cx="1039.3" cy="241.7" r="1.25"/><circle cx="1043.8" cy="242.3" r="1.25"/><circle cx="1047.3" cy="239.4" r="1.25"/><circle cx="1049.6" cy="235.5" r="1.25"/><circle cx="1052.1" cy="231.5" r="1.25"/><circle cx="1054.9" cy="232.7" r="1.25"/><circle cx="1056.7" cy="237.1" r="1.25"/><circle cx="1060.2" cy="239.7" r="1.25"/><circle cx="1064.7" cy="240.3" r="1.25"/><circle cx="1068.8" cy="242.1" r="1.25"/><circle cx="1071.1" cy="246" r="1.25"/><circle cx="1072.4" cy="250.4" r="1.25"/><circle cx="1073.4" cy="254.9" r="1.25"/><circle cx="1074.3" cy="259.5" r="1.25"/><circle cx="1075" cy="264" r="1.25"/><circle cx="1075.7" cy="268.5" r="1.25"/><circle cx="1076.7" cy="273" r="1.25"/><circle cx="1077.9" cy="277.5" r="1.25"/><circle cx="1079.2" cy="281.9" r="1.25"/><circle cx="1080.6" cy="286.3" r="1.25"/><circle cx="1082.6" cy="290.4" r="1.25"/><circle cx="1086.5" cy="292.6" r="1.25"/><circle cx="1090.5" cy="290.9" r="1.25"/><circle cx="1093.9" cy="287.7" r="1.25"/><circle cx="1096.7" cy="284.1" r="1.25"/><circle cx="1100.4" cy="282.1" r="1.25"/><circle cx="1103.4" cy="285.4" r="1.25"/><circle cx="1104.5" cy="289.8" r="1.25"/><circle cx="1105.5" cy="294.3" r="1.25"/><circle cx="1106.5" cy="298.7" r="1.25"/><circle cx="1107.6" cy="303.1" r="1.25"/><circle cx="1108.7" cy="307.6" r="1.25"/><circle cx="1109.9" cy="312" r="1.25"/><circle cx="1111.3" cy="316.4" r="1.25"/><circle cx="1113.2" cy="320.5" r="1.25"/><circle cx="1115.6" cy="324.4" r="1.25"/><circle cx="1119.2" cy="327.2" r="1.25"/><circle cx="1122.6" cy="330.4" r="1.25"/><circle cx="1125.9" cy="333.6" r="1.25"/><circle cx="1129.1" cy="332.5" r="1.25"/><circle cx="1130.8" cy="328.3" r="1.25"/><circle cx="1131.9" cy="323.8" r="1.25"/><circle cx="1132.7" cy="319.1" r="1.25"/><circle cx="1133.5" cy="314.6" r="1.25"/><circle cx="1134.2" cy="310.1" r="1.25"/><circle cx="1135" cy="305.5" r="1.25"/><circle cx="1135.7" cy="301" r="1.25"/><circle cx="1136.5" cy="296.5" r="1.25"/><circle cx="1137.2" cy="292" r="1.25"/><circle cx="1138" cy="287.4" r="1.25"/><circle cx="1138.8" cy="282.8" r="1.25"/><circle cx="1139.5" cy="278.4" r="1.25"/><circle cx="1140.1" cy="273.9" r="1.25"/><circle cx="1140.7" cy="269.2" r="1.25"/><circle cx="1141.2" cy="264.6" r="1.25"/><circle cx="1142" cy="260.2" r="1.25"/><circle cx="1143.2" cy="255.8" r="1.25"/><circle cx="1144.5" cy="251.3" r="1.25"/><circle cx="1145.8" cy="246.9" r="1.25"/><circle cx="1147.3" cy="242.5" r="1.25"/><circle cx="1149.5" cy="238.5" r="1.25"/><circle cx="1152.4" cy="234.9" r="1.25"/><circle cx="1156.1" cy="234.1" r="1.25"/><circle cx="1158" cy="238.4" r="1.25"/><circle cx="1159.3" cy="242.7" r="1.25"/><circle cx="1160.3" cy="247.2" r="1.25"/><circle cx="1161.1" cy="251.6" r="1.25"/><circle cx="1161.7" cy="256.2" r="1.25"/><circle cx="1162.3" cy="260.7" r="1.25"/><circle cx="1162.9" cy="265.3" r="1.25"/><circle cx="1163.8" cy="269.9" r="1.25"/><circle cx="1164.6" cy="274.5" r="1.25"/><circle cx="1165.1" cy="279.1" r="1.25"/><circle cx="1165.5" cy="283.8" r="1.25"/><circle cx="1166" cy="288.4" r="1.25"/><circle cx="1166.5" cy="293" r="1.25"/><circle cx="1167" cy="297.5" r="1.25"/><circle cx="1167.6" cy="302.1" r="1.25"/><circle cx="1168.2" cy="306.6" r="1.25"/><circle cx="1168.9" cy="311.1" r="1.25"/><circle cx="1169.7" cy="315.7" r="1.25"/><circle cx="1170.5" cy="320.2" r="1.25"/><circle cx="1171.5" cy="324.9" r="1.25"/><circle cx="1172.6" cy="329.4" r="1.25"/><circle cx="1173.8" cy="333.8" r="1.25"/><circle cx="1175.2" cy="338.3" r="1.25"/><circle cx="1176.7" cy="342.7" r="1.25"/><circle cx="1178.5" cy="347" r="1.25"/><circle cx="1180.4" cy="351.4" r="1.25"/><circle cx="1182" cy="355.7" r="1.25"/><circle cx="1183.4" cy="360.1" r="1.25"/><circle cx="1184.7" cy="364.5" r="1.25"/><circle cx="1186" cy="368.8" r="1.25"/><circle cx="1187.5" cy="373.2" r="1.25"/><circle cx="1189.2" cy="377.5" r="1.25"/><circle cx="1191.2" cy="382" r="1.25"/><circle cx="1193.7" cy="385.7" r="1.25"/><circle cx="1197.5" cy="383.3" r="1.25"/><circle cx="1200" cy="379.4" r="1.25"/><circle cx="1202.2" cy="375.3" r="1.25"/><circle cx="1204" cy="370.9" r="1.25"/><circle cx="1205.4" cy="366.6" r="1.25"/><circle cx="1206.6" cy="362.1" r="1.25"/><circle cx="1207.7" cy="357.7" r="1.25"/><circle cx="1208.8" cy="353.1" r="1.25"/><circle cx="1209.9" cy="348.7" r="1.25"/><circle cx="1211.1" cy="344.2" r="1.25"/><circle cx="1212.3" cy="339.7" r="1.25"/><circle cx="1213.3" cy="335.3" r="1.25"/><circle cx="1214.3" cy="330.9" r="1.25"/><circle cx="1215.2" cy="326.3" r="1.25"/><circle cx="1216.2" cy="321.9" r="1.25"/><circle cx="1217" cy="317.5" r="1.25"/><circle cx="1218.3" cy="312.9" r="1.25"/><circle cx="1220.3" cy="308.8" r="1.25"/><circle cx="1224.4" cy="308.2" r="1.25"/><circle cx="1228.6" cy="310.4" r="1.25"/><circle cx="1231.8" cy="307.7" r="1.25"/><circle cx="1233.6" cy="303.5" r="1.25"/><circle cx="1235" cy="299.2" r="1.25"/><circle cx="1236.5" cy="294.8" r="1.25"/><circle cx="1238.3" cy="290.6" r="1.25"/><circle cx="1240.2" cy="286.3" r="1.25"/><circle cx="1242.1" cy="282.2" r="1.25"/><circle cx="1244.4" cy="278.1" r="1.25"/><circle cx="1247" cy="274.4" r="1.25"/><circle cx="1250.3" cy="271.2" r="1.25"/><circle cx="1254.5" cy="270.9" r="1.25"/><circle cx="1257.9" cy="273.9" r="1.25"/><circle cx="1261.5" cy="276.8" r="1.25"/><circle cx="1264.1" cy="280.5" r="1.25"/><circle cx="1266.7" cy="284.3" r="1.25"/><circle cx="1269.6" cy="288.1" r="1.25"/><circle cx="1272.2" cy="291.9" r="1.25"/><circle cx="1274.5" cy="295.8" r="1.25"/><circle cx="1276.7" cy="299.8" r="1.25"/><circle cx="1279" cy="303.7" r="1.25"/><circle cx="1281.5" cy="307.5" r="1.25"/><circle cx="1283.7" cy="311.4" r="1.25"/><circle cx="1285.3" cy="315.8" r="1.25"/><circle cx="1286.7" cy="320.2" r="1.25"/><circle cx="1287.7" cy="324.6" r="1.25"/><circle cx="1288.5" cy="329.2" r="1.25"/><circle cx="1289.3" cy="333.7" r="1.25"/><circle cx="1290.1" cy="338.3" r="1.25"/><circle cx="1290.9" cy="342.9" r="1.25"/><circle cx="1291.8" cy="347.4" r="1.25"/><circle cx="1292.9" cy="351.9" r="1.25"/><circle cx="1294.2" cy="356.2" r="1.25"/><circle cx="1296.3" cy="360.4" r="1.25"/><circle cx="1300.2" cy="359.9" r="1.25"/><circle cx="1304.5" cy="358.7" r="1.25"/><circle cx="1307.9" cy="361.6" r="1.25"/><circle cx="1310.7" cy="365.5" r="1.25"/><circle cx="1314.5" cy="366" r="1.25"/><circle cx="1317.3" cy="362.3" r="1.25"/><circle cx="1319.4" cy="358.2" r="1.25"/><circle cx="1320.8" cy="353.7" r="1.25"/><circle cx="1321.8" cy="349.1" r="1.25"/><circle cx="1322.8" cy="344.5" r="1.25"/><circle cx="1323.8" cy="340" r="1.25"/><circle cx="1325.2" cy="335.6" r="1.25"/><circle cx="1326.5" cy="331.1" r="1.25"/><circle cx="1327.4" cy="326.7" r="1.25"/><circle cx="1328.2" cy="322.3" r="1.25"/><circle cx="1329.3" cy="317.9" r="1.25"/><circle cx="1330.5" cy="313.5" r="1.25"/><circle cx="1331.6" cy="309.1" r="1.25"/><circle cx="1332.6" cy="304.5" r="1.25"/><circle cx="1333.8" cy="300" r="1.25"/><circle cx="1335.4" cy="295.7" r="1.25"/><circle cx="1337.1" cy="291.3" r="1.25"/><circle cx="1338.5" cy="286.9" r="1.25"/><circle cx="1340" cy="282.5" r="1.25"/><circle cx="1341.5" cy="278.2" r="1.25"/><circle cx="1343.1" cy="274" r="1.25"/><circle cx="1345.5" cy="270.1" r="1.25"/><circle cx="1347.5" cy="266" r="1.25"/><circle cx="1348.9" cy="261.7" r="1.25"/><circle cx="1350.7" cy="257.2" r="1.25"/><circle cx="1352.7" cy="253.1" r="1.25"/><circle cx="1356.1" cy="250" r="1.25"/><circle cx="1360.5" cy="249.5" r="1.25"/><circle cx="1364.6" cy="251.4" r="1.25"/><circle cx="1368.1" cy="254.5" r="1.25"/><circle cx="1370.5" cy="258.5" r="1.25"/><circle cx="1372.4" cy="262.7" r="1.25"/><circle cx="1376" cy="262.7" r="1.25"/><circle cx="1379.4" cy="259.5" r="1.25"/><circle cx="1383.1" cy="256.6" r="1.25"/><circle cx="1387.5" cy="256.4" r="1.25"/><circle cx="1391.3" cy="258.9" r="1.25"/><circle cx="1395.1" cy="261.5" r="1.25"/><circle cx="1398.8" cy="264.2" r="1.25"/><circle cx="1401.5" cy="268.1" r="1.25"/><circle cx="1405.5" cy="269.9" r="1.25"/><circle cx="1409" cy="267.4" r="1.25"/><circle cx="1411.8" cy="263.6" r="1.25"/><circle cx="1416.1" cy="262.5" r="1.25"/><circle cx="1420.6" cy="263.7" r="1.25"/><circle cx="1425.1" cy="265.2" r="1.25"/><circle cx="1428.7" cy="268" r="1.25"/><circle cx="1430.6" cy="272.1" r="1.25"/><circle cx="1432" cy="276.7" r="1.25"/><circle cx="1433.9" cy="280.8" r="1.25"/><circle cx="1436.2" cy="284.8" r="1.25"/><circle cx="1438.7" cy="281.3" r="1.25"/><circle cx="1440.5" cy="276.9" r="1.25"/><circle cx="1442.1" cy="272.5" r="1.25"/><circle cx="1443.7" cy="268.1" r="1.25"/><circle cx="1447.2" cy="265.5" r="1.25"/><circle cx="1450.1" cy="269.1" r="1.25"/><circle cx="1452.3" cy="273.2" r="1.25"/><circle cx="1455.1" cy="271.4" r="1.25"/><circle cx="1457" cy="267.3" r="1.25"/><circle cx="1458.4" cy="262.8" r="1.25"/><circle cx="1459.4" cy="258.4" r="1.25"/><circle cx="1460.8" cy="254.1" r="1.25"/><circle cx="1463.5" cy="250.4" r="1.25"/><circle cx="1468" cy="251.7" r="1.25"/><circle cx="1471" cy="248.4" r="1.25"/><circle cx="1473" cy="244.1" r="1.25"/><circle cx="1474.6" cy="239.7" r="1.25"/><circle cx="1478.3" cy="238.4" r="1.25"/><circle cx="1481.8" cy="241.4" r="1.25"/><circle cx="1485" cy="244.2" r="1.25"/><circle cx="1488.1" cy="240.9" r="1.25"/><circle cx="1490.1" cy="236.7" r="1.25"/><circle cx="1492.1" cy="232.6" r="1.25"/><circle cx="1495.1" cy="231" r="1.25"/><circle cx="1496.9" cy="235.2" r="1.25"/><circle cx="1497.9" cy="239.7" r="1.25"/><circle cx="1499.1" cy="244.3" r="1.25"/><circle cx="1500.3" cy="248.8" r="1.25"/><circle cx="1502" cy="253.2" r="1.25"/><circle cx="1505" cy="256.7" r="1.25"/><circle cx="1508.7" cy="254.6" r="1.25"/><circle cx="1511.6" cy="256.9" r="1.25"/><circle cx="1513.2" cy="261.3" r="1.25"/><circle cx="1514.8" cy="265.5" r="1.25"/><circle cx="1516.9" cy="269.6" r="1.25"/><circle cx="1519.2" cy="273.5" r="1.25"/><circle cx="1522.2" cy="276.9" r="1.25"/><circle cx="1523" cy="281.5" r="1.25"/></g>
<g fill="#17a5e3"><circle cx="1025.7" cy="263.4" r="1.25"/><circle cx="1029.3" cy="260.6" r="1.25"/><circle cx="1033.2" cy="258.4" r="1.25"/><circle cx="1037.3" cy="256.5" r="1.25"/><circle cx="1041.5" cy="254.8" r="1.25"/><circle cx="1044.6" cy="251.4" r="1.25"/><circle cx="1046.7" cy="247.5" r="1.25"/><circle cx="1049" cy="243.5" r="1.25"/><circle cx="1052.1" cy="240" r="1.25"/><circle cx="1056.3" cy="238.1" r="1.25"/><circle cx="1059" cy="234.5" r="1.25"/><circle cx="1060.9" cy="230.3" r="1.25"/><circle cx="1062.7" cy="226" r="1.25"/><circle cx="1064.9" cy="221.9" r="1.25"/><circle cx="1067.9" cy="224" r="1.25"/><circle cx="1069.4" cy="228.4" r="1.25"/><circle cx="1071.1" cy="232.5" r="1.25"/><circle cx="1072.6" cy="236.8" r="1.25"/><circle cx="1074.3" cy="241.2" r="1.25"/><circle cx="1076.6" cy="245.2" r="1.25"/><circle cx="1080.5" cy="245.4" r="1.25"/><circle cx="1083.1" cy="241.7" r="1.25"/><circle cx="1086.6" cy="238.9" r="1.25"/><circle cx="1091" cy="239" r="1.25"/><circle cx="1094.7" cy="241.6" r="1.25"/><circle cx="1098.9" cy="240.5" r="1.25"/><circle cx="1102.8" cy="242.7" r="1.25"/><circle cx="1104.3" cy="247.2" r="1.25"/><circle cx="1105.2" cy="251.6" r="1.25"/><circle cx="1106.1" cy="256.1" r="1.25"/><circle cx="1107" cy="260.7" r="1.25"/><circle cx="1107.8" cy="265.2" r="1.25"/><circle cx="1108.5" cy="269.8" r="1.25"/><circle cx="1109.4" cy="274.3" r="1.25"/><circle cx="1110.6" cy="278.9" r="1.25"/><circle cx="1112" cy="283.2" r="1.25"/><circle cx="1113.8" cy="287.4" r="1.25"/><circle cx="1115.9" cy="291.5" r="1.25"/><circle cx="1117.7" cy="295.7" r="1.25"/><circle cx="1119.1" cy="300.1" r="1.25"/><circle cx="1120.3" cy="304.5" r="1.25"/><circle cx="1121.2" cy="309.1" r="1.25"/><circle cx="1122.1" cy="313.8" r="1.25"/><circle cx="1122.9" cy="318.3" r="1.25"/><circle cx="1123.6" cy="322.8" r="1.25"/><circle cx="1124.6" cy="327.4" r="1.25"/><circle cx="1125.8" cy="331.9" r="1.25"/><circle cx="1127.4" cy="336.1" r="1.25"/><circle cx="1129.5" cy="333.5" r="1.25"/><circle cx="1130.5" cy="328.9" r="1.25"/><circle cx="1131.2" cy="324.4" r="1.25"/><circle cx="1131.9" cy="319.9" r="1.25"/><circle cx="1132.6" cy="315.5" r="1.25"/><circle cx="1133.2" cy="310.8" r="1.25"/><circle cx="1133.9" cy="306.2" r="1.25"/><circle cx="1134.4" cy="301.7" r="1.25"/><circle cx="1135" cy="297" r="1.25"/><circle cx="1135.5" cy="292.3" r="1.25"/><circle cx="1136" cy="287.6" r="1.25"/><circle cx="1136.5" cy="283" r="1.25"/><circle cx="1137.1" cy="278.5" r="1.25"/><circle cx="1138" cy="274.1" r="1.25"/><circle cx="1139.2" cy="269.6" r="1.25"/><circle cx="1140.4" cy="265.2" r="1.25"/><circle cx="1141.4" cy="260.8" r="1.25"/><circle cx="1142.4" cy="256.4" r="1.25"/><circle cx="1143.4" cy="251.7" r="1.25"/><circle cx="1144.2" cy="247.2" r="1.25"/><circle cx="1144.9" cy="242.5" r="1.25"/><circle cx="1145.6" cy="238" r="1.25"/><circle cx="1146.2" cy="233.6" r="1.25"/><circle cx="1146.9" cy="228.9" r="1.25"/><circle cx="1147.5" cy="224.3" r="1.25"/><circle cx="1148.1" cy="219.8" r="1.25"/><circle cx="1148.6" cy="215.2" r="1.25"/><circle cx="1149.1" cy="210.6" r="1.25"/><circle cx="1149.6" cy="205.9" r="1.25"/><circle cx="1150" cy="201.4" r="1.25"/><circle cx="1150.4" cy="196.9" r="1.25"/><circle cx="1150.9" cy="192.4" r="1.25"/><circle cx="1151.6" cy="187.7" r="1.25"/><circle cx="1152.5" cy="183.3" r="1.25"/><circle cx="1153.7" cy="178.7" r="1.25"/><circle cx="1155.9" cy="177" r="1.25"/><circle cx="1157" cy="181.4" r="1.25"/><circle cx="1158.3" cy="185.9" r="1.25"/><circle cx="1159.6" cy="190.5" r="1.25"/><circle cx="1161.2" cy="195.1" r="1.25"/><circle cx="1164.4" cy="197.9" r="1.25"/><circle cx="1167.9" cy="194.9" r="1.25"/><circle cx="1171.4" cy="197.3" r="1.25"/><circle cx="1172.8" cy="201.7" r="1.25"/><circle cx="1173.7" cy="206.2" r="1.25"/><circle cx="1174.6" cy="210.8" r="1.25"/><circle cx="1175.3" cy="215.4" r="1.25"/><circle cx="1176.1" cy="219.9" r="1.25"/><circle cx="1177" cy="224.3" r="1.25"/><circle cx="1177.9" cy="229" r="1.25"/><circle cx="1179" cy="233.5" r="1.25"/><circle cx="1180.1" cy="238" r="1.25"/><circle cx="1181.4" cy="242.3" r="1.25"/><circle cx="1183.1" cy="246.6" r="1.25"/><circle cx="1185.5" cy="250.7" r="1.25"/><circle cx="1188.2" cy="254.6" r="1.25"/><circle cx="1191" cy="258.2" r="1.25"/><circle cx="1193.1" cy="262.3" r="1.25"/><circle cx="1194.8" cy="266.5" r="1.25"/><circle cx="1196.4" cy="270.9" r="1.25"/><circle cx="1198.2" cy="275.2" r="1.25"/><circle cx="1200.1" cy="279.5" r="1.25"/><circle cx="1202" cy="283.8" r="1.25"/><circle cx="1204" cy="287.9" r="1.25"/><circle cx="1206.3" cy="292" r="1.25"/><circle cx="1209.5" cy="292.1" r="1.25"/><circle cx="1211.4" cy="287.7" r="1.25"/><circle cx="1213.6" cy="283.7" r="1.25"/><circle cx="1216.2" cy="280" r="1.25"/><circle cx="1220" cy="281.8" r="1.25"/><circle cx="1222.9" cy="285.4" r="1.25"/><circle cx="1225.7" cy="289" r="1.25"/><circle cx="1230" cy="290.3" r="1.25"/><circle cx="1234.6" cy="290.5" r="1.25"/><circle cx="1239" cy="291.2" r="1.25"/><circle cx="1241.5" cy="287.5" r="1.25"/><circle cx="1243.1" cy="283.2" r="1.25"/><circle cx="1244.5" cy="278.8" r="1.25"/><circle cx="1246" cy="274.5" r="1.25"/><circle cx="1249.2" cy="273.9" r="1.25"/><circle cx="1252" cy="277.6" r="1.25"/><circle cx="1254.5" cy="281.4" r="1.25"/><circle cx="1257.3" cy="278.6" r="1.25"/><circle cx="1258.9" cy="274.3" r="1.25"/><circle cx="1262.5" cy="271.9" r="1.25"/><circle cx="1266.9" cy="273" r="1.25"/><circle cx="1270.5" cy="275.8" r="1.25"/><circle cx="1273.5" cy="279.4" r="1.25"/><circle cx="1276.3" cy="283.1" r="1.25"/><circle cx="1279.1" cy="286.7" r="1.25"/><circle cx="1282.1" cy="290.3" r="1.25"/><circle cx="1284.7" cy="294.2" r="1.25"/><circle cx="1286.8" cy="298.3" r="1.25"/><circle cx="1288.8" cy="302.4" r="1.25"/><circle cx="1291" cy="306.6" r="1.25"/><circle cx="1293.5" cy="310.3" r="1.25"/><circle cx="1296.6" cy="313.8" r="1.25"/><circle cx="1300" cy="317.1" r="1.25"/><circle cx="1303.8" cy="315.7" r="1.25"/><circle cx="1306.5" cy="311.9" r="1.25"/><circle cx="1308.6" cy="307.6" r="1.25"/><circle cx="1312" cy="304.8" r="1.25"/><circle cx="1316.4" cy="305.6" r="1.25"/><circle cx="1320.6" cy="306.4" r="1.25"/><circle cx="1323" cy="302.5" r="1.25"/><circle cx="1324.8" cy="298.2" r="1.25"/><circle cx="1326.3" cy="293.8" r="1.25"/><circle cx="1327.4" cy="289.3" r="1.25"/><circle cx="1328.9" cy="284.9" r="1.25"/><circle cx="1330.7" cy="280.8" r="1.25"/><circle cx="1333.2" cy="276.8" r="1.25"/><circle cx="1336.7" cy="273.8" r="1.25"/><circle cx="1341.1" cy="272.5" r="1.25"/><circle cx="1345.2" cy="270.6" r="1.25"/><circle cx="1348.3" cy="267.2" r="1.25"/><circle cx="1351" cy="263.6" r="1.25"/><circle cx="1353.3" cy="259.7" r="1.25"/><circle cx="1355" cy="255.4" r="1.25"/><circle cx="1357.2" cy="251.3" r="1.25"/><circle cx="1361" cy="249.6" r="1.25"/><circle cx="1363.6" cy="253.4" r="1.25"/><circle cx="1365.7" cy="257.7" r="1.25"/><circle cx="1367.4" cy="262" r="1.25"/><circle cx="1370.6" cy="260.4" r="1.25"/><circle cx="1372.2" cy="256.2" r="1.25"/><circle cx="1373.3" cy="251.5" r="1.25"/><circle cx="1374.1" cy="246.9" r="1.25"/><circle cx="1375" cy="242.4" r="1.25"/><circle cx="1376.1" cy="237.8" r="1.25"/><circle cx="1377.4" cy="233.5" r="1.25"/><circle cx="1379.3" cy="229.3" r="1.25"/><circle cx="1382.8" cy="227" r="1.25"/><circle cx="1386" cy="230.1" r="1.25"/><circle cx="1388.4" cy="234" r="1.25"/><circle cx="1392.8" cy="234.6" r="1.25"/><circle cx="1396" cy="231.4" r="1.25"/><circle cx="1398.2" cy="227.2" r="1.25"/><circle cx="1401.8" cy="225.3" r="1.25"/><circle cx="1404.4" cy="229.2" r="1.25"/><circle cx="1405.8" cy="233.7" r="1.25"/><circle cx="1406.9" cy="238.2" r="1.25"/><circle cx="1407.9" cy="242.7" r="1.25"/><circle cx="1408.8" cy="247.3" r="1.25"/><circle cx="1409.6" cy="251.9" r="1.25"/><circle cx="1410.4" cy="256.4" r="1.25"/><circle cx="1411.4" cy="260.9" r="1.25"/><circle cx="1412.2" cy="265.4" r="1.25"/><circle cx="1415" cy="268.4" r="1.25"/><circle cx="1417.7" cy="264.8" r="1.25"/><circle cx="1419.2" cy="260.4" r="1.25"/><circle cx="1420.2" cy="256" r="1.25"/><circle cx="1421.1" cy="251.6" r="1.25"/><circle cx="1422" cy="246.9" r="1.25"/><circle cx="1423.1" cy="242.4" r="1.25"/><circle cx="1425" cy="238.1" r="1.25"/><circle cx="1428" cy="240.4" r="1.25"/><circle cx="1429.6" cy="244.8" r="1.25"/><circle cx="1430.8" cy="249.3" r="1.25"/><circle cx="1432" cy="253.8" r="1.25"/><circle cx="1433.4" cy="258.3" r="1.25"/><circle cx="1435.5" cy="262.6" r="1.25"/><circle cx="1438.5" cy="265.7" r="1.25"/><circle cx="1441.6" cy="262.8" r="1.25"/><circle cx="1443.1" cy="258.3" r="1.25"/><circle cx="1444.7" cy="254" r="1.25"/><circle cx="1446.5" cy="249.7" r="1.25"/><circle cx="1448.6" cy="245.6" r="1.25"/><circle cx="1451.7" cy="242" r="1.25"/><circle cx="1455" cy="244.7" r="1.25"/><circle cx="1457" cy="249.1" r="1.25"/><circle cx="1458.5" cy="253.4" r="1.25"/><circle cx="1460.5" cy="257.5" r="1.25"/><circle cx="1463.2" cy="261.1" r="1.25"/><circle cx="1466.9" cy="261.1" r="1.25"/><circle cx="1469.7" cy="257.2" r="1.25"/><circle cx="1472.3" cy="253.4" r="1.25"/><circle cx="1476.2" cy="251.1" r="1.25"/><circle cx="1480.5" cy="252.6" r="1.25"/><circle cx="1483" cy="256.5" r="1.25"/><circle cx="1485.1" cy="260.7" r="1.25"/><circle cx="1487.1" cy="264.9" r="1.25"/><circle cx="1489.1" cy="269.1" r="1.25"/><circle cx="1491.6" cy="272.9" r="1.25"/><circle cx="1495.4" cy="274.9" r="1.25"/><circle cx="1498.8" cy="271.7" r="1.25"/><circle cx="1500.9" cy="267.7" r="1.25"/><circle cx="1502.9" cy="263.5" r="1.25"/><circle cx="1505" cy="259.4" r="1.25"/><circle cx="1507" cy="255.4" r="1.25"/><circle cx="1509" cy="251.3" r="1.25"/><circle cx="1510.8" cy="247" r="1.25"/><circle cx="1512.6" cy="242.7" r="1.25"/><circle cx="1514.4" cy="238.4" r="1.25"/><circle cx="1516.6" cy="234.4" r="1.25"/><circle cx="1519.2" cy="230.4" r="1.25"/></g>
<g fill="#dc541c"><circle cx="1027.9" cy="264.4" r="1.25"/><circle cx="1029.4" cy="260.2" r="1.25"/><circle cx="1031.1" cy="255.9" r="1.25"/><circle cx="1033" cy="251.6" r="1.25"/><circle cx="1035.2" cy="247.5" r="1.25"/><circle cx="1039.2" cy="247.6" r="1.25"/><circle cx="1043.2" cy="249.2" r="1.25"/><circle cx="1045.4" cy="245.2" r="1.25"/><circle cx="1047.3" cy="241.1" r="1.25"/><circle cx="1050.8" cy="241.3" r="1.25"/><circle cx="1054.1" cy="243.8" r="1.25"/><circle cx="1057" cy="240" r="1.25"/><circle cx="1059.5" cy="236" r="1.25"/><circle cx="1061" cy="231.6" r="1.25"/><circle cx="1062.4" cy="227.1" r="1.25"/><circle cx="1063.7" cy="222.6" r="1.25"/><circle cx="1065" cy="218.3" r="1.25"/><circle cx="1066.7" cy="214" r="1.25"/><circle cx="1069.2" cy="210" r="1.25"/><circle cx="1072.8" cy="207.5" r="1.25"/><circle cx="1077.2" cy="208.6" r="1.25"/><circle cx="1081.5" cy="210.6" r="1.25"/><circle cx="1083.8" cy="214.6" r="1.25"/><circle cx="1085" cy="219" r="1.25"/><circle cx="1086.5" cy="223.3" r="1.25"/><circle cx="1088.3" cy="227.6" r="1.25"/><circle cx="1091" cy="231" r="1.25"/><circle cx="1093.7" cy="227.3" r="1.25"/><circle cx="1095.5" cy="222.9" r="1.25"/><circle cx="1097.3" cy="218.7" r="1.25"/><circle cx="1100.5" cy="220" r="1.25"/><circle cx="1102" cy="224.2" r="1.25"/><circle cx="1102.7" cy="228.7" r="1.25"/><circle cx="1103.4" cy="233.3" r="1.25"/><circle cx="1104" cy="237.9" r="1.25"/><circle cx="1104.6" cy="242.5" r="1.25"/><circle cx="1105.2" cy="247.1" r="1.25"/><circle cx="1105.8" cy="251.6" r="1.25"/><circle cx="1106.7" cy="256.1" r="1.25"/><circle cx="1107.6" cy="260.8" r="1.25"/><circle cx="1108.8" cy="265.2" r="1.25"/><circle cx="1111.5" cy="268.7" r="1.25"/><circle cx="1115" cy="271.6" r="1.25"/><circle cx="1116.4" cy="275.9" r="1.25"/><circle cx="1117.2" cy="280.3" r="1.25"/><circle cx="1118" cy="285" r="1.25"/><circle cx="1118.8" cy="289.6" r="1.25"/><circle cx="1119.6" cy="294.1" r="1.25"/><circle cx="1120.3" cy="298.6" r="1.25"/><circle cx="1120.9" cy="303.1" r="1.25"/><circle cx="1121.5" cy="307.6" r="1.25"/><circle cx="1122.1" cy="312.1" r="1.25"/><circle cx="1122.6" cy="316.7" r="1.25"/><circle cx="1123.1" cy="321.3" r="1.25"/><circle cx="1123.7" cy="325.9" r="1.25"/><circle cx="1124.3" cy="330.4" r="1.25"/><circle cx="1125" cy="335" r="1.25"/><circle cx="1125.6" cy="339.4" r="1.25"/><circle cx="1127.1" cy="342.3" r="1.25"/><circle cx="1128.2" cy="337.7" r="1.25"/><circle cx="1129" cy="333.1" r="1.25"/><circle cx="1129.8" cy="328.6" r="1.25"/><circle cx="1130.5" cy="323.9" r="1.25"/><circle cx="1131.2" cy="319.4" r="1.25"/><circle cx="1131.9" cy="314.9" r="1.25"/><circle cx="1132.5" cy="310.3" r="1.25"/><circle cx="1133.1" cy="305.8" r="1.25"/><circle cx="1133.6" cy="301.2" r="1.25"/><circle cx="1134.1" cy="296.5" r="1.25"/><circle cx="1134.5" cy="292.1" r="1.25"/><circle cx="1134.9" cy="287.6" r="1.25"/><circle cx="1135.3" cy="282.9" r="1.25"/><circle cx="1135.7" cy="278.3" r="1.25"/><circle cx="1136.2" cy="273.6" r="1.25"/><circle cx="1136.8" cy="268.9" r="1.25"/><circle cx="1137.4" cy="264.4" r="1.25"/><circle cx="1138.1" cy="259.8" r="1.25"/><circle cx="1138.8" cy="255.3" r="1.25"/><circle cx="1139.6" cy="250.8" r="1.25"/><circle cx="1140.6" cy="246.3" r="1.25"/><circle cx="1141.6" cy="241.8" r="1.25"/><circle cx="1142.6" cy="237.4" r="1.25"/><circle cx="1143.6" cy="232.9" r="1.25"/><circle cx="1144.7" cy="228.3" r="1.25"/><circle cx="1145.8" cy="223.7" r="1.25"/><circle cx="1146.9" cy="219.3" r="1.25"/><circle cx="1148.2" cy="214.8" r="1.25"/><circle cx="1149.5" cy="210.4" r="1.25"/><circle cx="1151" cy="206" r="1.25"/><circle cx="1153.5" cy="202" r="1.25"/><circle cx="1157.5" cy="200" r="1.25"/><circle cx="1161.8" cy="200.8" r="1.25"/><circle cx="1163.7" cy="205.1" r="1.25"/><circle cx="1164.9" cy="209.6" r="1.25"/><circle cx="1166" cy="214.1" r="1.25"/><circle cx="1167" cy="218.6" r="1.25"/><circle cx="1167.9" cy="223" r="1.25"/><circle cx="1168.9" cy="227.5" r="1.25"/><circle cx="1169.9" cy="232.1" r="1.25"/><circle cx="1170.9" cy="236.7" r="1.25"/><circle cx="1171.8" cy="241.3" r="1.25"/><circle cx="1172.6" cy="245.7" r="1.25"/><circle cx="1173.4" cy="250.3" r="1.25"/><circle cx="1174.2" cy="254.9" r="1.25"/><circle cx="1175.2" cy="259.3" r="1.25"/><circle cx="1176.4" cy="263.8" r="1.25"/><circle cx="1177.8" cy="268.2" r="1.25"/><circle cx="1179.3" cy="272.8" r="1.25"/><circle cx="1181" cy="277.1" r="1.25"/><circle cx="1182.6" cy="281.3" r="1.25"/><circle cx="1184" cy="285.8" r="1.25"/><circle cx="1185.2" cy="290.3" r="1.25"/><circle cx="1186.6" cy="294.7" r="1.25"/><circle cx="1187.9" cy="299.1" r="1.25"/><circle cx="1189.3" cy="303.5" r="1.25"/><circle cx="1190.6" cy="308" r="1.25"/><circle cx="1192.3" cy="312.2" r="1.25"/><circle cx="1195.3" cy="315.6" r="1.25"/><circle cx="1199.3" cy="314.8" r="1.25"/><circle cx="1203.3" cy="312.5" r="1.25"/><circle cx="1207.8" cy="311.9" r="1.25"/><circle cx="1212.1" cy="313.7" r="1.25"/><circle cx="1216" cy="314.4" r="1.25"/><circle cx="1218.5" cy="310.7" r="1.25"/><circle cx="1220.5" cy="306.4" r="1.25"/><circle cx="1222.1" cy="302.2" r="1.25"/><circle cx="1223.3" cy="297.6" r="1.25"/><circle cx="1224.3" cy="293" r="1.25"/><circle cx="1225.4" cy="288.6" r="1.25"/><circle cx="1226.7" cy="284" r="1.25"/><circle cx="1227.9" cy="279.5" r="1.25"/><circle cx="1229.2" cy="275.2" r="1.25"/><circle cx="1230.7" cy="270.9" r="1.25"/><circle cx="1231.5" cy="266.3" r="1.25"/><circle cx="1232.6" cy="261.8" r="1.25"/><circle cx="1233.8" cy="257.3" r="1.25"/><circle cx="1235" cy="252.8" r="1.25"/><circle cx="1236.2" cy="248.2" r="1.25"/><circle cx="1237.4" cy="243.7" r="1.25"/><circle cx="1239" cy="239.2" r="1.25"/><circle cx="1241.3" cy="235.3" r="1.25"/><circle cx="1243.9" cy="231.4" r="1.25"/><circle cx="1246.5" cy="227.7" r="1.25"/><circle cx="1248.2" cy="223.3" r="1.25"/><circle cx="1249.5" cy="218.9" r="1.25"/><circle cx="1251.1" cy="214.7" r="1.25"/><circle cx="1252.7" cy="210.4" r="1.25"/><circle cx="1255.6" cy="207.1" r="1.25"/><circle cx="1258.6" cy="210.3" r="1.25"/><circle cx="1259.8" cy="214.9" r="1.25"/><circle cx="1260.8" cy="219.4" r="1.25"/><circle cx="1261.9" cy="223.8" r="1.25"/><circle cx="1263" cy="228.4" r="1.25"/><circle cx="1264.3" cy="232.9" r="1.25"/><circle cx="1265.9" cy="237.2" r="1.25"/><circle cx="1269.6" cy="237.5" r="1.25"/><circle cx="1272.8" cy="234.2" r="1.25"/><circle cx="1275.7" cy="230.8" r="1.25"/><circle cx="1279.4" cy="232.7" r="1.25"/><circle cx="1282.1" cy="236.3" r="1.25"/><circle cx="1285.1" cy="239.8" r="1.25"/><circle cx="1288.8" cy="241.7" r="1.25"/><circle cx="1292.3" cy="238.6" r="1.25"/><circle cx="1296.5" cy="239" r="1.25"/><circle cx="1298.6" cy="243" r="1.25"/><circle cx="1300.5" cy="247.3" r="1.25"/><circle cx="1302.2" cy="251.5" r="1.25"/><circle cx="1304" cy="255.7" r="1.25"/><circle cx="1305.9" cy="260" r="1.25"/><circle cx="1308" cy="264.1" r="1.25"/><circle cx="1310.3" cy="267.9" r="1.25"/><circle cx="1312.9" cy="271.7" r="1.25"/><circle cx="1315.5" cy="275.4" r="1.25"/><circle cx="1318.4" cy="279.1" r="1.25"/><circle cx="1321.6" cy="282.4" r="1.25"/><circle cx="1325.2" cy="280.7" r="1.25"/><circle cx="1327.7" cy="276.9" r="1.25"/><circle cx="1330.1" cy="272.9" r="1.25"/><circle cx="1333.7" cy="271.2" r="1.25"/><circle cx="1337" cy="274.5" r="1.25"/><circle cx="1338.9" cy="278.8" r="1.25"/><circle cx="1340.5" cy="282.8" r="1.25"/><circle cx="1344.1" cy="280.1" r="1.25"/><circle cx="1346.4" cy="276.1" r="1.25"/><circle cx="1348.3" cy="271.9" r="1.25"/><circle cx="1350.1" cy="267.7" r="1.25"/><circle cx="1351.7" cy="263.5" r="1.25"/><circle cx="1353.5" cy="259.3" r="1.25"/><circle cx="1355.8" cy="255.5" r="1.25"/><circle cx="1357.9" cy="251.3" r="1.25"/><circle cx="1359.4" cy="246.9" r="1.25"/><circle cx="1360.8" cy="242.3" r="1.25"/><circle cx="1362.1" cy="237.9" r="1.25"/><circle cx="1363.3" cy="233.5" r="1.25"/><circle cx="1364.4" cy="229" r="1.25"/><circle cx="1365.5" cy="224.4" r="1.25"/><circle cx="1366.6" cy="220" r="1.25"/><circle cx="1368.1" cy="215.6" r="1.25"/><circle cx="1370.2" cy="211.5" r="1.25"/><circle cx="1373.1" cy="208" r="1.25"/><circle cx="1376.9" cy="205.2" r="1.25"/><circle cx="1380.1" cy="201.9" r="1.25"/><circle cx="1383.6" cy="198.8" r="1.25"/><circle cx="1387.8" cy="196.7" r="1.25"/><circle cx="1392.3" cy="197.3" r="1.25"/><circle cx="1395.8" cy="200.3" r="1.25"/><circle cx="1398.3" cy="204.1" r="1.25"/><circle cx="1400.3" cy="208.3" r="1.25"/><circle cx="1402" cy="212.7" r="1.25"/><circle cx="1403.3" cy="217.2" r="1.25"/><circle cx="1404.7" cy="221.8" r="1.25"/><circle cx="1406.8" cy="225.9" r="1.25"/><circle cx="1409.2" cy="229.9" r="1.25"/><circle cx="1411.7" cy="233.7" r="1.25"/><circle cx="1414.5" cy="237.5" r="1.25"/><circle cx="1418.7" cy="239.3" r="1.25"/><circle cx="1421.7" cy="236.4" r="1.25"/><circle cx="1423.3" cy="232" r="1.25"/><circle cx="1424.8" cy="227.7" r="1.25"/><circle cx="1427.1" cy="223.6" r="1.25"/><circle cx="1430.6" cy="223.9" r="1.25"/><circle cx="1432.3" cy="228.1" r="1.25"/><circle cx="1434" cy="232.6" r="1.25"/><circle cx="1436.3" cy="236.6" r="1.25"/><circle cx="1439.7" cy="238.6" r="1.25"/><circle cx="1441.9" cy="234.4" r="1.25"/><circle cx="1444.1" cy="230.3" r="1.25"/><circle cx="1447.5" cy="227.5" r="1.25"/><circle cx="1452" cy="227.2" r="1.25"/><circle cx="1455.4" cy="224.6" r="1.25"/><circle cx="1457.3" cy="220.4" r="1.25"/><circle cx="1458.9" cy="216.1" r="1.25"/><circle cx="1460.7" cy="211.7" r="1.25"/><circle cx="1463.7" cy="208.6" r="1.25"/><circle cx="1467.6" cy="210.8" r="1.25"/><circle cx="1471.7" cy="208.8" r="1.25"/><circle cx="1474.2" cy="204.9" r="1.25"/><circle cx="1476.6" cy="201" r="1.25"/><circle cx="1479.7" cy="197.7" r="1.25"/><circle cx="1482.9" cy="200.2" r="1.25"/><circle cx="1484.5" cy="204.6" r="1.25"/><circle cx="1485.8" cy="209.2" r="1.25"/><circle cx="1486.8" cy="213.6" r="1.25"/><circle cx="1487.9" cy="218.1" r="1.25"/><circle cx="1489.3" cy="222.5" r="1.25"/><circle cx="1491.1" cy="226.7" r="1.25"/><circle cx="1494.6" cy="229.3" r="1.25"/><circle cx="1497.2" cy="225.8" r="1.25"/><circle cx="1498.7" cy="221.5" r="1.25"/><circle cx="1500.3" cy="217.3" r="1.25"/><circle cx="1502.4" cy="213.2" r="1.25"/><circle cx="1505.6" cy="211.4" r="1.25"/><circle cx="1508" cy="215.3" r="1.25"/><circle cx="1509.5" cy="219.6" r="1.25"/><circle cx="1510.7" cy="224.1" r="1.25"/><circle cx="1512.1" cy="228.5" r="1.25"/><circle cx="1514.4" cy="232.8" r="1.25"/><circle cx="1517" cy="230.2" r="1.25"/><circle cx="1518.4" cy="225.7" r="1.25"/><circle cx="1519.9" cy="221.3" r="1.25"/><circle cx="1522.1" cy="219.4" r="1.25"/></g>
<rect x="1200.5" y="72" width="120" height="365" fill="none" stroke="#000" stroke-width="2.3"/>
<path d="M1245.3 100.2V397.8M1257.6 100.2V397.8" stroke="#000" stroke-width="2.1" fill="none"/>
<text x="1229.5" y="426.4" class="b" font-size="21.2" fill="#111" textLength="71.8" lengthAdjust="spacingAndGlyphs">MMN-2</text>
<text x="1190.4" y="247.3" class="b" font-size="12" fill="#111" textLength="20.6" lengthAdjust="spacingAndGlyphs">300</text>
<text x="1374.5" y="246.8" class="b" font-size="12" fill="#111" textLength="22" lengthAdjust="spacingAndGlyphs">700</text>
<text x="1293.6" y="266.7" class="b" font-size="12.3" fill="#111" textLength="55.3" lengthAdjust="spacingAndGlyphs">time (ms)</text>
<text x="1283.7" y="113.3" class="b" font-size="5.4" fill="#000" textLength="18.6" lengthAdjust="spacingAndGlyphs">Latency</text>
<text x="1283.7" y="120.6" class="b" font-size="5.4" fill="#000" textLength="26.6" lengthAdjust="spacingAndGlyphs">differences</text>
<path d="M1280.9 112.3H1276.3V109.6L1270.6 114.5L1276.3 119.6V116.8H1280.9Z" fill="#ee1c25"/>
<text x="1459" y="400.1" class="b" font-size="12" fill="#111">BF</text>
<g fill="#72c13e"><circle cx="1483" cy="397.1" r="1.2"/><circle cx="1488.4" cy="397.1" r="1.2"/><circle cx="1493.8" cy="397.1" r="1.2"/><circle cx="1499.2" cy="397.1" r="1.2"/><circle cx="1504.6" cy="397.1" r="1.2"/></g>
<text x="1459" y="419" class="b" font-size="12" fill="#111">MF</text>
<g fill="#17a5e3"><circle cx="1483" cy="415.6" r="1.2"/><circle cx="1488.4" cy="415.6" r="1.2"/><circle cx="1493.8" cy="415.6" r="1.2"/><circle cx="1499.2" cy="415.6" r="1.2"/><circle cx="1504.6" cy="415.6" r="1.2"/></g>
<text x="1459" y="435.9" class="b" font-size="12" fill="#111">SF</text>
<g fill="#dc541c"><circle cx="1483" cy="432.2" r="1.2"/><circle cx="1488.4" cy="432.2" r="1.2"/><circle cx="1493.8" cy="432.2" r="1.2"/><circle cx="1499.2" cy="432.2" r="1.2"/><circle cx="1504.6" cy="432.2" r="1.2"/></g>
</g>
</svg></body></html>
